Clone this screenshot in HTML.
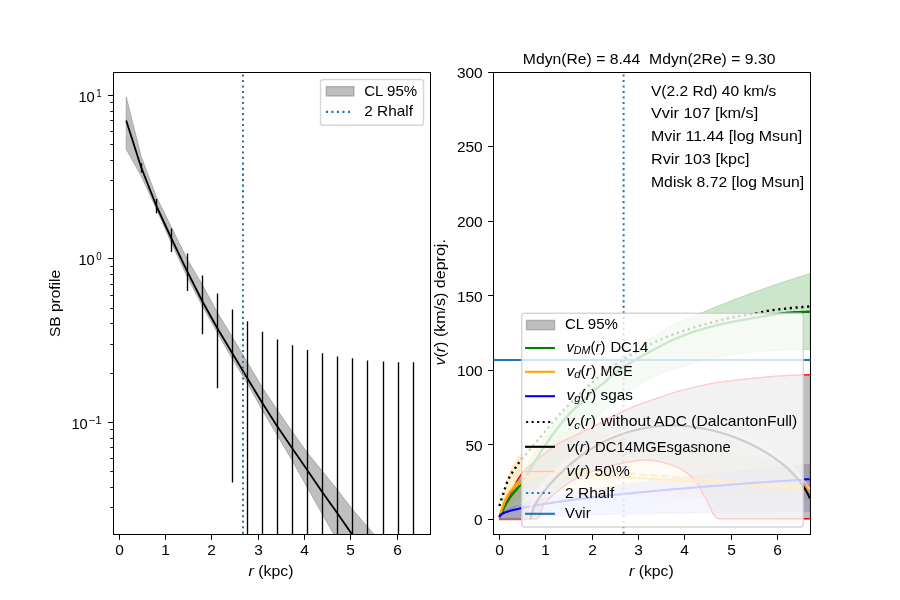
<!DOCTYPE html>
<html><head><meta charset="utf-8"><title>plot</title>
<style>html,body{margin:0;padding:0;background:#fff;overflow:hidden}svg{display:block;will-change:transform}text{font-family:"Liberation Sans",sans-serif;fill:#000}</style>
</head><body>
<svg width="900" height="600" viewBox="0 0 900 600">
<rect x="0" y="0" width="900" height="600" fill="#fff"/>
<clipPath id="cl"><rect x="113.5" y="72.5" width="317" height="462"/></clipPath>
<g clip-path="url(#cl)">
<polygon points="126.2,96.9 141.2,156.3 156.2,196.3 171.2,226.8 187.2,259 202.2,284.5 217.2,312 232.2,336.8 247.2,362 262.2,387.3 277.2,410 292.2,431.5 307.2,452.5 322.2,471 337.2,489.5 352.2,509 367.2,526.5 383.2,544 383.2,620 367.2,594 352.2,567 337.2,540.5 322.2,514 307.2,487.5 292.2,460.5 277.2,435.3 262.2,410 247.2,383 232.2,358.7 217.2,332.6 202.2,305.7 187.2,277 171.2,242.5 156.2,208.6 141.2,176 126.2,149.3" fill="#808080" fill-opacity="0.5" stroke="#808080" stroke-opacity="0.5" stroke-width="1"/>
<line x1="141.5" y1="163.3" x2="141.5" y2="172.5" stroke="#000" stroke-width="1.35"/>
<line x1="156.5" y1="199" x2="156.5" y2="213.2" stroke="#000" stroke-width="1.35"/>
<line x1="171.5" y1="228.6" x2="171.5" y2="252" stroke="#000" stroke-width="1.35"/>
<line x1="187.5" y1="253.4" x2="187.5" y2="291" stroke="#000" stroke-width="1.35"/>
<line x1="202.5" y1="275.6" x2="202.5" y2="334.2" stroke="#000" stroke-width="1.35"/>
<line x1="217.5" y1="293.4" x2="217.5" y2="388.3" stroke="#000" stroke-width="1.35"/>
<line x1="232.5" y1="309.5" x2="232.5" y2="482.5" stroke="#000" stroke-width="1.35"/>
<line x1="247.5" y1="321.3" x2="247.5" y2="540" stroke="#000" stroke-width="1.35"/>
<line x1="262.5" y1="331.7" x2="262.5" y2="540" stroke="#000" stroke-width="1.35"/>
<line x1="277.5" y1="339.6" x2="277.5" y2="540" stroke="#000" stroke-width="1.35"/>
<line x1="292.5" y1="345.3" x2="292.5" y2="540" stroke="#000" stroke-width="1.35"/>
<line x1="307.5" y1="350" x2="307.5" y2="540" stroke="#000" stroke-width="1.35"/>
<line x1="322.5" y1="353.3" x2="322.5" y2="540" stroke="#000" stroke-width="1.35"/>
<line x1="337.5" y1="356.5" x2="337.5" y2="540" stroke="#000" stroke-width="1.35"/>
<line x1="352.5" y1="358.3" x2="352.5" y2="540" stroke="#000" stroke-width="1.35"/>
<line x1="367.5" y1="360.5" x2="367.5" y2="540" stroke="#000" stroke-width="1.35"/>
<line x1="383.5" y1="361.4" x2="383.5" y2="540" stroke="#000" stroke-width="1.35"/>
<line x1="398.5" y1="362.3" x2="398.5" y2="540" stroke="#000" stroke-width="1.35"/>
<line x1="413.5" y1="362.3" x2="413.5" y2="540" stroke="#000" stroke-width="1.35"/>
<polyline points="126.2,120.5 141.2,167.4 156.2,205.5 171.2,238 187.2,271.3 202.2,301 217.2,328 232.2,353 247.2,378 262.2,402.7 277.2,426.3 292.2,448.3 307.2,470 322.2,492 337.2,513 352.2,534.6 367.2,556 383.2,577" fill="none" stroke="#000" stroke-width="1.8" stroke-linejoin="round"/>
<line x1="243" y1="533.8" x2="243" y2="72" stroke="#1f77b4" stroke-width="2" stroke-dasharray="2.08 3.43"/>
</g>
<rect x="113" y="72" width="318" height="1" fill="#000"/>
<rect x="113" y="534" width="318" height="1" fill="#000"/>
<rect x="113" y="72" width="1" height="463" fill="#000"/>
<rect x="430" y="72" width="1" height="463" fill="#000"/>
<rect x="119" y="535" width="1" height="4.8" fill="#000"/>
<text x="119.5" y="555" font-size="14.2" text-anchor="middle" textLength="8.6" lengthAdjust="spacingAndGlyphs">0</text>
<rect x="165" y="535" width="1" height="4.8" fill="#000"/>
<text x="165.5" y="555" font-size="14.2" text-anchor="middle" textLength="8.6" lengthAdjust="spacingAndGlyphs">1</text>
<rect x="211" y="535" width="1" height="4.8" fill="#000"/>
<text x="211.5" y="555" font-size="14.2" text-anchor="middle" textLength="8.6" lengthAdjust="spacingAndGlyphs">2</text>
<rect x="258" y="535" width="1" height="4.8" fill="#000"/>
<text x="258.5" y="555" font-size="14.2" text-anchor="middle" textLength="8.6" lengthAdjust="spacingAndGlyphs">3</text>
<rect x="304" y="535" width="1" height="4.8" fill="#000"/>
<text x="304.5" y="555" font-size="14.2" text-anchor="middle" textLength="8.6" lengthAdjust="spacingAndGlyphs">4</text>
<rect x="350" y="535" width="1" height="4.8" fill="#000"/>
<text x="350.5" y="555" font-size="14.2" text-anchor="middle" textLength="8.6" lengthAdjust="spacingAndGlyphs">5</text>
<rect x="397" y="535" width="1" height="4.8" fill="#000"/>
<text x="397.5" y="555" font-size="14.2" text-anchor="middle" textLength="8.6" lengthAdjust="spacingAndGlyphs">6</text>
<rect x="108.1" y="95" width="5" height="1" fill="#000"/>
<rect x="108.1" y="258" width="5" height="1" fill="#000"/>
<rect x="108.1" y="422" width="5" height="1" fill="#000"/>
<rect x="110.2" y="209" width="3" height="1" fill="#000" fill-opacity="0.9"/>
<rect x="110.2" y="180" width="3" height="1" fill="#000" fill-opacity="0.9"/>
<rect x="110.2" y="160" width="3" height="1" fill="#000" fill-opacity="0.9"/>
<rect x="110.2" y="144" width="3" height="1" fill="#000" fill-opacity="0.9"/>
<rect x="110.2" y="131" width="3" height="1" fill="#000" fill-opacity="0.9"/>
<rect x="110.2" y="120" width="3" height="1" fill="#000" fill-opacity="0.9"/>
<rect x="110.2" y="111" width="3" height="1" fill="#000" fill-opacity="0.9"/>
<rect x="110.2" y="102" width="3" height="1" fill="#000" fill-opacity="0.9"/>
<rect x="110.2" y="373" width="3" height="1" fill="#000" fill-opacity="0.9"/>
<rect x="110.2" y="344" width="3" height="1" fill="#000" fill-opacity="0.9"/>
<rect x="110.2" y="323" width="3" height="1" fill="#000" fill-opacity="0.9"/>
<rect x="110.2" y="308" width="3" height="1" fill="#000" fill-opacity="0.9"/>
<rect x="110.2" y="295" width="3" height="1" fill="#000" fill-opacity="0.9"/>
<rect x="110.2" y="284" width="3" height="1" fill="#000" fill-opacity="0.9"/>
<rect x="110.2" y="274" width="3" height="1" fill="#000" fill-opacity="0.9"/>
<rect x="110.2" y="266" width="3" height="1" fill="#000" fill-opacity="0.9"/>
<rect x="110.2" y="507" width="3" height="1" fill="#000" fill-opacity="0.9"/>
<rect x="110.2" y="487" width="3" height="1" fill="#000" fill-opacity="0.9"/>
<rect x="110.2" y="471" width="3" height="1" fill="#000" fill-opacity="0.9"/>
<rect x="110.2" y="458" width="3" height="1" fill="#000" fill-opacity="0.9"/>
<rect x="110.2" y="447" width="3" height="1" fill="#000" fill-opacity="0.9"/>
<rect x="110.2" y="438" width="3" height="1" fill="#000" fill-opacity="0.9"/>
<rect x="110.2" y="429" width="3" height="1" fill="#000" fill-opacity="0.9"/>
<text x="78.4" y="101.5" font-size="14.2" text-anchor="start" textLength="16.3" lengthAdjust="spacingAndGlyphs">10</text>
<text x="96.3" y="96.7" font-size="10.4" text-anchor="start" textLength="5.4" lengthAdjust="spacingAndGlyphs">1</text>
<text x="78.4" y="265.0" font-size="14.2" text-anchor="start" textLength="16.3" lengthAdjust="spacingAndGlyphs">10</text>
<text x="96.3" y="260.2" font-size="10.4" text-anchor="start" textLength="5.4" lengthAdjust="spacingAndGlyphs">0</text>
<text x="71.4" y="428.5" font-size="14.2" text-anchor="start" textLength="16.3" lengthAdjust="spacingAndGlyphs">10</text>
<text x="88.4" y="423.7" font-size="10.4" text-anchor="start" textLength="13.3" lengthAdjust="spacingAndGlyphs">−1</text>
<text x="248.6" y="575.7" font-size="14.2" text-anchor="start" textLength="44.8" lengthAdjust="spacingAndGlyphs"><tspan font-style="italic">r</tspan> (kpc)</text>
<text transform="translate(60.3,337) rotate(-90)" font-size="14.2" textLength="67" lengthAdjust="spacingAndGlyphs">SB profile</text>
<rect x="320.5" y="79.5" width="103" height="45.7" rx="2.8" fill="#fff" fill-opacity="0.8" stroke="#ccc" stroke-opacity="0.8" stroke-width="1.4"/>
<rect x="326.3" y="86.6" width="27.6" height="9.4" fill="#808080" fill-opacity="0.5" stroke="#808080" stroke-opacity="0.5" stroke-width="1.4"/>
<line x1="325.9" y1="111.9" x2="353" y2="111.9" stroke="#1f77b4" stroke-width="2.1" stroke-dasharray="2.08 3.43"/>
<text x="364.2" y="96.2" font-size="14.2" text-anchor="start" textLength="53.0" lengthAdjust="spacingAndGlyphs">CL 95%</text>
<text x="364.3" y="116.3" font-size="14.2" text-anchor="start" textLength="48.6" lengthAdjust="spacingAndGlyphs">2 Rhalf</text>
<rect x="493" y="72" width="318" height="1" fill="#000"/>
<rect x="493" y="534" width="318" height="1" fill="#000"/>
<rect x="493" y="72" width="1" height="463" fill="#000"/>
<rect x="810" y="72" width="1" height="463" fill="#000"/>
<rect x="499" y="535" width="1" height="4.8" fill="#000"/>
<text x="499.5" y="555" font-size="14.2" text-anchor="middle" textLength="8.6" lengthAdjust="spacingAndGlyphs">0</text>
<rect x="545" y="535" width="1" height="4.8" fill="#000"/>
<text x="545.5" y="555" font-size="14.2" text-anchor="middle" textLength="8.6" lengthAdjust="spacingAndGlyphs">1</text>
<rect x="592" y="535" width="1" height="4.8" fill="#000"/>
<text x="592.5" y="555" font-size="14.2" text-anchor="middle" textLength="8.6" lengthAdjust="spacingAndGlyphs">2</text>
<rect x="638" y="535" width="1" height="4.8" fill="#000"/>
<text x="638.5" y="555" font-size="14.2" text-anchor="middle" textLength="8.6" lengthAdjust="spacingAndGlyphs">3</text>
<rect x="684" y="535" width="1" height="4.8" fill="#000"/>
<text x="684.5" y="555" font-size="14.2" text-anchor="middle" textLength="8.6" lengthAdjust="spacingAndGlyphs">4</text>
<rect x="731" y="535" width="1" height="4.8" fill="#000"/>
<text x="731.5" y="555" font-size="14.2" text-anchor="middle" textLength="8.6" lengthAdjust="spacingAndGlyphs">5</text>
<rect x="777" y="535" width="1" height="4.8" fill="#000"/>
<text x="777.5" y="555" font-size="14.2" text-anchor="middle" textLength="8.6" lengthAdjust="spacingAndGlyphs">6</text>
<rect x="488.1" y="519" width="5" height="1" fill="#000"/>
<text x="482.7" y="525.0" font-size="14.2" text-anchor="end" textLength="8.6" lengthAdjust="spacingAndGlyphs">0</text>
<rect x="488.1" y="444" width="5" height="1" fill="#000"/>
<text x="482.7" y="450.5" font-size="14.2" text-anchor="end" textLength="17.2" lengthAdjust="spacingAndGlyphs">50</text>
<rect x="488.1" y="370" width="5" height="1" fill="#000"/>
<text x="482.7" y="376.0" font-size="14.2" text-anchor="end" textLength="25.799999999999997" lengthAdjust="spacingAndGlyphs">100</text>
<rect x="488.1" y="295" width="5" height="1" fill="#000"/>
<text x="482.7" y="301.5" font-size="14.2" text-anchor="end" textLength="25.799999999999997" lengthAdjust="spacingAndGlyphs">150</text>
<rect x="488.1" y="221" width="5" height="1" fill="#000"/>
<text x="482.7" y="226.9" font-size="14.2" text-anchor="end" textLength="25.799999999999997" lengthAdjust="spacingAndGlyphs">200</text>
<rect x="488.1" y="146" width="5" height="1" fill="#000"/>
<text x="482.7" y="152.4" font-size="14.2" text-anchor="end" textLength="25.799999999999997" lengthAdjust="spacingAndGlyphs">250</text>
<rect x="488.1" y="72" width="5" height="1" fill="#000"/>
<text x="482.7" y="77.9" font-size="14.2" text-anchor="end" textLength="25.799999999999997" lengthAdjust="spacingAndGlyphs">300</text>
<text x="629.0" y="575.7" font-size="14.2" text-anchor="start" textLength="44.8" lengthAdjust="spacingAndGlyphs"><tspan font-style="italic">r</tspan> (kpc)</text>
<text transform="translate(445,365.6) rotate(-90)" font-size="14.2" textLength="126.5" lengthAdjust="spacingAndGlyphs"><tspan font-style="italic">v</tspan>(<tspan font-style="italic">r</tspan>) (km/s) deproj.</text>
<text x="522.8" y="63.8" font-size="14.2" text-anchor="start" textLength="252.6" lengthAdjust="spacingAndGlyphs" xml:space="preserve">Mdyn(Re) = 8.44  Mdyn(2Re) = 9.30</text>
<clipPath id="cr"><rect x="493.5" y="72.5" width="317" height="462"/></clipPath>
<g clip-path="url(#cr)">
<polygon points="499.4,517.2 500.1,515.7 500.8,514.2 501.5,512.8 502.3,511.3 503.0,509.8 503.7,508.4 504.4,507.0 505.1,505.5 505.8,504.1 506.5,502.7 507.2,501.3 508.0,499.9 508.7,498.5 509.4,497.1 510.1,495.7 510.8,494.3 511.5,493.0 512.2,491.6 512.9,490.3 513.7,488.9 514.4,487.6 515.1,486.3 515.8,484.9 516.5,483.6 517.2,482.3 517.9,481.0 518.6,479.8 519.4,478.5 520.1,477.2 520.8,475.9 521.5,474.7 522.2,473.5 522.9,472.2 523.6,471.0 524.3,469.8 525.1,468.6 525.8,467.3 526.5,466.1 527.2,464.9 528.6,462.6 530.0,460.2 531.5,457.9 532.9,455.6 534.3,453.4 535.7,451.1 537.1,448.9 538.6,446.7 540.0,444.5 541.4,442.4 542.8,440.2 544.2,438.1 545.7,436.0 547.1,434.0 548.5,431.9 549.9,429.9 551.3,427.8 552.8,425.8 554.2,423.8 555.6,421.8 557.0,419.9 558.4,418.0 559.9,416.1 561.3,414.2 562.7,412.3 564.1,410.5 565.5,408.7 567.0,407.0 568.4,405.3 569.8,403.6 571.2,401.9 572.6,400.3 574.1,398.6 575.5,397.0 576.9,395.4 578.3,393.9 579.7,392.3 581.2,390.8 582.6,389.3 584.0,387.8 585.4,386.4 586.8,385.0 588.3,383.6 589.7,382.2 591.1,380.9 592.5,379.6 593.9,378.4 595.4,377.1 596.8,375.9 598.2,374.8 599.6,373.6 601.0,372.5 602.5,371.3 603.9,370.2 605.3,369.1 606.7,368.1 608.1,367.0 609.6,365.9 611.0,364.9 612.4,363.9 613.8,362.8 615.2,361.8 616.7,360.8 618.1,359.7 619.5,358.7 620.9,357.7 622.3,356.7 623.8,355.7 625.2,354.7 626.6,353.7 628.0,352.7 629.4,351.8 630.9,350.8 632.3,349.9 633.7,348.9 635.1,348.0 636.6,347.0 638.0,346.1 639.4,345.2 640.8,344.2 642.2,343.3 643.7,342.4 645.1,341.5 646.5,340.6 647.9,339.8 649.3,338.9 650.8,338.0 652.2,337.1 653.6,336.3 655.0,335.4 656.4,334.5 657.9,333.7 659.3,332.8 660.7,332.0 662.1,331.1 663.5,330.3 665.0,329.5 666.4,328.7 667.8,327.9 669.2,327.2 670.6,326.4 672.1,325.7 673.5,325.0 674.9,324.3 676.3,323.6 677.7,323.0 679.2,322.3 680.6,321.7 682.0,321.0 683.4,320.4 684.8,319.8 686.3,319.2 687.7,318.6 689.1,318.0 690.5,317.4 691.9,316.9 693.4,316.3 694.8,315.7 696.2,315.1 697.6,314.5 699.0,313.9 700.5,313.3 701.9,312.7 703.3,312.1 704.7,311.5 706.1,311.0 707.6,310.4 709.0,309.8 710.4,309.2 711.8,308.6 713.2,308.0 714.7,307.4 716.1,306.9 717.5,306.3 718.9,305.7 720.3,305.1 721.8,304.6 723.2,304.0 724.6,303.4 726.0,302.9 727.4,302.3 728.9,301.7 730.3,301.2 731.7,300.6 733.1,300.1 734.5,299.5 736.0,299.0 737.4,298.4 738.8,297.9 740.2,297.3 741.6,296.8 743.1,296.3 744.5,295.7 745.9,295.2 747.3,294.6 748.7,294.1 750.2,293.6 751.6,293.1 753.0,292.5 754.4,292.0 755.8,291.5 757.3,291.0 758.7,290.5 760.1,289.9 761.5,289.4 762.9,288.9 764.4,288.4 765.8,287.9 767.2,287.4 768.6,286.9 770.0,286.4 771.5,286.0 772.9,285.5 774.3,285.0 775.7,284.5 777.1,284.0 778.6,283.5 780.0,283.1 781.4,282.6 782.8,282.1 784.2,281.7 785.7,281.2 787.1,280.7 788.5,280.3 789.9,279.8 791.3,279.4 792.8,278.9 794.2,278.4 795.6,278.0 797.0,277.6 798.4,277.1 799.9,276.7 801.3,276.2 802.7,275.8 804.1,275.4 805.6,274.9 807.0,274.5 808.4,274.1 809.8,273.6 809.8,349.5 808.4,349.5 807.0,349.5 805.6,349.5 804.1,349.5 802.7,349.6 801.3,349.6 799.9,349.6 798.4,349.7 797.0,349.7 795.6,349.7 794.2,349.8 792.8,349.8 791.3,349.9 789.9,349.9 788.5,350.0 787.1,350.1 785.7,350.1 784.2,350.2 782.8,350.3 781.4,350.3 780.0,350.4 778.6,350.5 777.1,350.6 775.7,350.7 774.3,350.7 772.9,350.8 771.5,350.9 770.0,351.0 768.6,351.1 767.2,351.2 765.8,351.3 764.4,351.4 762.9,351.5 761.5,351.6 760.1,351.7 758.7,351.8 757.3,351.9 755.8,352.0 754.4,352.1 753.0,352.3 751.6,352.4 750.2,352.5 748.7,352.6 747.3,352.7 745.9,352.9 744.5,353.0 743.1,353.2 741.6,353.4 740.2,353.6 738.8,353.8 737.4,354.0 736.0,354.2 734.5,354.4 733.1,354.7 731.7,354.9 730.3,355.1 728.9,355.3 727.4,355.5 726.0,355.7 724.6,355.9 723.2,356.2 721.8,356.4 720.3,356.6 718.9,356.9 717.5,357.1 716.1,357.4 714.7,357.6 713.2,357.9 711.8,358.2 710.4,358.4 709.0,358.7 707.6,359.1 706.1,359.4 704.7,359.7 703.3,360.1 701.9,360.5 700.5,360.9 699.0,361.3 697.6,361.8 696.2,362.2 694.8,362.7 693.4,363.1 691.9,363.6 690.5,364.1 689.1,364.6 687.7,365.0 686.3,365.5 684.8,366.0 683.4,366.4 682.0,366.9 680.6,367.4 679.2,367.8 677.7,368.2 676.3,368.7 674.9,369.1 673.5,369.5 672.1,369.9 670.6,370.3 669.2,370.8 667.8,371.2 666.4,371.7 665.0,372.2 663.5,372.7 662.1,373.2 660.7,373.7 659.3,374.3 657.9,374.9 656.4,375.5 655.0,376.2 653.6,376.8 652.2,377.5 650.8,378.2 649.3,378.9 647.9,379.6 646.5,380.4 645.1,381.2 643.7,381.9 642.2,382.7 640.8,383.5 639.4,384.3 638.0,385.2 636.6,386.0 635.1,386.9 633.7,387.8 632.3,388.7 630.9,389.6 629.4,390.6 628.0,391.5 626.6,392.5 625.2,393.6 623.8,394.6 622.3,395.6 620.9,396.7 619.5,397.8 618.1,398.9 616.7,400.0 615.2,401.2 613.8,402.3 612.4,403.5 611.0,404.7 609.6,406.0 608.1,407.3 606.7,408.6 605.3,409.9 603.9,411.3 602.5,412.7 601.0,414.1 599.6,415.5 598.2,416.9 596.8,418.4 595.4,419.8 593.9,421.3 592.5,422.9 591.1,424.4 589.7,426.0 588.3,427.6 586.8,429.3 585.4,431.0 584.0,432.7 582.6,434.4 581.2,436.1 579.7,437.8 578.3,439.5 576.9,441.3 575.5,443.0 574.1,444.7 572.6,446.4 571.2,448.1 569.8,449.8 568.4,451.4 567.0,453.1 565.5,454.8 564.1,456.5 562.7,458.2 561.3,459.8 559.9,461.5 558.4,463.2 557.0,464.9 555.6,466.6 554.2,468.2 552.8,469.9 551.3,471.5 549.9,473.1 548.5,474.7 547.1,476.2 545.7,477.7 544.2,479.3 542.8,480.8 541.4,482.3 540.0,483.8 538.6,485.3 537.1,486.7 535.7,488.2 534.3,489.6 532.9,491.1 531.5,492.5 530.0,493.9 528.6,495.2 527.2,496.5 526.5,497.2 525.8,497.8 525.1,498.5 524.3,499.1 523.6,499.7 522.9,500.3 522.2,500.9 521.5,501.5 520.8,502.1 520.1,502.7 519.4,503.3 518.6,503.8 517.9,504.4 517.2,505.0 516.5,505.5 515.8,506.1 515.1,506.6 514.4,507.1 513.7,507.7 512.9,508.2 512.2,508.7 511.5,509.3 510.8,509.8 510.1,510.3 509.4,510.8 508.7,511.3 508.0,511.8 507.2,512.2 506.5,512.7 505.8,513.2 505.1,513.7 504.4,514.1 503.7,514.6 503.0,515.0 502.3,515.5 501.5,515.9 500.8,516.3 500.1,516.8 499.4,517.2" fill="#008000" fill-opacity="0.2" stroke="#008000" stroke-opacity="0.2" stroke-width="1"/>
<polygon points="499.4,517.2 500.1,513.6 500.8,510.1 501.5,506.7 502.3,503.3 503.0,500.1 503.7,497.0 504.4,494.1 505.1,491.1 505.8,488.1 506.5,485.2 507.2,482.3 508.0,479.6 508.7,477.0 509.4,474.6 510.1,472.5 510.8,470.6 511.5,469.0 512.2,467.5 512.9,466.1 513.7,464.7 514.4,463.4 515.1,462.1 515.8,461.0 516.5,459.9 517.2,458.8 517.9,457.8 518.6,456.9 519.4,456.0 520.1,455.1 520.8,454.3 521.5,453.5 522.2,452.8 522.9,452.1 523.6,451.3 524.3,450.6 525.1,449.9 525.8,449.2 526.5,448.6 527.2,447.9 528.6,446.6 530.0,445.4 531.5,444.2 532.9,443.1 534.3,442.0 535.7,441.0 537.1,440.1 538.6,439.2 540.0,438.4 541.4,437.7 542.8,437.0 544.2,436.5 545.7,436.0 547.1,435.5 548.5,435.1 549.9,434.6 551.3,434.2 552.8,433.8 554.2,433.5 555.6,433.1 557.0,432.8 558.4,432.6 559.9,432.4 561.3,432.2 562.7,432.1 564.1,432.1 565.5,432.1 567.0,432.1 568.4,432.1 569.8,432.1 571.2,432.2 572.6,432.2 574.1,432.2 575.5,432.3 576.9,432.3 578.3,432.4 579.7,432.5 581.2,432.5 582.6,432.6 584.0,432.7 585.4,432.8 586.8,432.9 588.3,432.9 589.7,433.0 591.1,433.1 592.5,433.2 593.9,433.3 595.4,433.4 596.8,433.5 598.2,433.6 599.6,433.7 601.0,433.8 602.5,433.9 603.9,434.0 605.3,434.1 606.7,434.3 608.1,434.4 609.6,434.6 611.0,434.7 612.4,434.9 613.8,435.1 615.2,435.3 616.7,435.5 618.1,435.7 619.5,435.9 620.9,436.1 622.3,436.3 623.8,436.5 625.2,436.8 626.6,437.0 628.0,437.2 629.4,437.5 630.9,437.7 632.3,438.0 633.7,438.3 635.1,438.5 636.6,438.8 638.0,439.1 639.4,439.3 640.8,439.6 642.2,439.9 643.7,440.2 645.1,440.4 646.5,440.7 647.9,441.0 649.3,441.3 650.8,441.6 652.2,441.9 653.6,442.2 655.0,442.4 656.4,442.7 657.9,443.0 659.3,443.3 660.7,443.6 662.1,443.9 663.5,444.1 665.0,444.4 666.4,444.7 667.8,445.0 669.2,445.2 670.6,445.5 672.1,445.7 673.5,446.0 674.9,446.3 676.3,446.5 677.7,446.7 679.2,447.0 680.6,447.2 682.0,447.4 683.4,447.7 684.8,447.9 686.3,448.1 687.7,448.3 689.1,448.5 690.5,448.7 691.9,448.9 693.4,449.2 694.8,449.4 696.2,449.6 697.6,449.8 699.0,450.0 700.5,450.2 701.9,450.4 703.3,450.6 704.7,450.8 706.1,451.0 707.6,451.2 709.0,451.4 710.4,451.7 711.8,451.9 713.2,452.1 714.7,452.3 716.1,452.5 717.5,452.7 718.9,452.9 720.3,453.1 721.8,453.3 723.2,453.5 724.6,453.7 726.0,453.9 727.4,454.1 728.9,454.3 730.3,454.5 731.7,454.7 733.1,454.9 734.5,455.1 736.0,455.3 737.4,455.5 738.8,455.7 740.2,455.9 741.6,456.1 743.1,456.3 744.5,456.5 745.9,456.6 747.3,456.8 748.7,457.0 750.2,457.2 751.6,457.4 753.0,457.6 754.4,457.8 755.8,458.0 757.3,458.2 758.7,458.4 760.1,458.5 761.5,458.7 762.9,458.9 764.4,459.1 765.8,459.3 767.2,459.5 768.6,459.7 770.0,459.8 771.5,460.0 772.9,460.2 774.3,460.4 775.7,460.6 777.1,460.8 778.6,460.9 780.0,461.1 781.4,461.3 782.8,461.5 784.2,461.6 785.7,461.8 787.1,462.0 788.5,462.2 789.9,462.3 791.3,462.5 792.8,462.7 794.2,462.9 795.6,463.0 797.0,463.2 798.4,463.4 799.9,463.5 801.3,463.7 802.7,463.9 804.1,464.0 805.6,464.2 807.0,464.4 808.4,464.5 809.8,464.7 809.8,500.0 808.4,500.0 807.0,500.0 805.6,500.0 804.1,499.9 802.7,499.9 801.3,499.9 799.9,499.9 798.4,499.8 797.0,499.8 795.6,499.8 794.2,499.8 792.8,499.8 791.3,499.7 789.9,499.7 788.5,499.7 787.1,499.6 785.7,499.6 784.2,499.6 782.8,499.6 781.4,499.5 780.0,499.5 778.6,499.5 777.1,499.5 775.7,499.4 774.3,499.4 772.9,499.4 771.5,499.3 770.0,499.3 768.6,499.3 767.2,499.2 765.8,499.2 764.4,499.2 762.9,499.2 761.5,499.1 760.1,499.1 758.7,499.1 757.3,499.0 755.8,499.0 754.4,499.0 753.0,498.9 751.6,498.9 750.2,498.9 748.7,498.8 747.3,498.8 745.9,498.8 744.5,498.7 743.1,498.7 741.6,498.6 740.2,498.6 738.8,498.6 737.4,498.5 736.0,498.5 734.5,498.5 733.1,498.4 731.7,498.4 730.3,498.3 728.9,498.3 727.4,498.3 726.0,498.2 724.6,498.2 723.2,498.2 721.8,498.1 720.3,498.1 718.9,498.0 717.5,498.0 716.1,498.0 714.7,497.9 713.2,497.9 711.8,497.8 710.4,497.8 709.0,497.8 707.6,497.7 706.1,497.7 704.7,497.6 703.3,497.6 701.9,497.6 700.5,497.5 699.0,497.5 697.6,497.4 696.2,497.4 694.8,497.3 693.4,497.3 691.9,497.3 690.5,497.2 689.1,497.2 687.7,497.1 686.3,497.1 684.8,497.0 683.4,497.0 682.0,497.0 680.6,496.9 679.2,496.9 677.7,496.8 676.3,496.8 674.9,496.7 673.5,496.7 672.1,496.6 670.6,496.6 669.2,496.5 667.8,496.5 666.4,496.4 665.0,496.4 663.5,496.3 662.1,496.2 660.7,496.2 659.3,496.1 657.9,496.1 656.4,496.0 655.0,496.0 653.6,495.9 652.2,495.8 650.8,495.8 649.3,495.7 647.9,495.7 646.5,495.6 645.1,495.5 643.7,495.5 642.2,495.4 640.8,495.3 639.4,495.3 638.0,495.2 636.6,495.2 635.1,495.1 633.7,495.0 632.3,495.0 630.9,494.9 629.4,494.8 628.0,494.8 626.6,494.7 625.2,494.7 623.8,494.6 622.3,494.5 620.9,494.5 619.5,494.4 618.1,494.4 616.7,494.3 615.2,494.2 613.8,494.2 612.4,494.1 611.0,494.1 609.6,494.0 608.1,493.9 606.7,493.9 605.3,493.8 603.9,493.8 602.5,493.7 601.0,493.7 599.6,493.6 598.2,493.5 596.8,493.5 595.4,493.4 593.9,493.4 592.5,493.3 591.1,493.3 589.7,493.2 588.3,493.2 586.8,493.1 585.4,493.1 584.0,493.0 582.6,492.9 581.2,492.9 579.7,492.8 578.3,492.8 576.9,492.7 575.5,492.6 574.1,492.6 572.6,492.5 571.2,492.5 569.8,492.4 568.4,492.4 567.0,492.3 565.5,492.2 564.1,492.2 562.7,492.1 561.3,492.1 559.9,492.1 558.4,492.0 557.0,492.0 555.6,491.9 554.2,491.9 552.8,491.9 551.3,491.9 549.9,491.9 548.5,491.8 547.1,491.8 545.7,491.8 544.2,491.8 542.8,491.9 541.4,492.0 540.0,492.1 538.6,492.2 537.1,492.4 535.7,492.6 534.3,492.8 532.9,493.1 531.5,493.4 530.0,493.7 528.6,494.0 527.2,494.3 526.5,494.5 525.8,494.7 525.1,494.9 524.3,495.1 523.6,495.3 522.9,495.5 522.2,495.7 521.5,495.9 520.8,496.3 520.1,496.7 519.4,497.1 518.6,497.6 517.9,498.2 517.2,498.8 516.5,499.4 515.8,500.0 515.1,500.7 514.4,501.3 513.7,502.0 512.9,502.7 512.2,503.3 511.5,504.0 510.8,504.7 510.1,505.3 509.4,506.0 508.7,506.7 508.0,507.4 507.2,508.1 506.5,508.9 505.8,509.6 505.1,510.4 504.4,511.2 503.7,512.0 503.0,512.8 502.3,513.7 501.5,514.5 500.8,515.4 500.1,516.3 499.4,517.2" fill="#ffa500" fill-opacity="0.2" stroke="#ffa500" stroke-opacity="0.2" stroke-width="1"/>
<polygon points="499.4,517.2 500.1,514.6 500.8,513.6 501.5,512.9 502.3,512.3 503.0,511.7 503.7,511.3 504.4,510.8 505.1,510.4 505.8,510.0 506.5,509.7 507.2,509.3 508.0,509.0 508.7,508.7 509.4,508.4 510.1,508.1 510.8,507.8 511.5,507.5 512.2,507.3 512.9,507.0 513.7,506.8 514.4,506.5 515.1,506.3 515.8,506.0 516.5,505.8 517.2,505.6 517.9,505.3 518.6,505.1 519.4,504.9 520.1,504.7 520.8,504.4 521.5,504.2 522.2,504.0 522.9,503.8 523.6,503.6 524.3,503.4 525.1,503.2 525.8,503.0 526.5,502.8 527.2,502.6 528.6,502.2 530.0,501.9 531.5,501.5 532.9,501.1 534.3,500.8 535.7,500.4 537.1,500.1 538.6,499.7 540.0,499.4 541.4,499.1 542.8,498.8 544.2,498.4 545.7,498.1 547.1,497.8 548.5,497.5 549.9,497.2 551.3,496.9 552.8,496.6 554.2,496.3 555.6,496.0 557.0,495.7 558.4,495.4 559.9,495.2 561.3,494.9 562.7,494.6 564.1,494.3 565.5,494.1 567.0,493.8 568.4,493.5 569.8,493.3 571.2,493.0 572.6,492.7 574.1,492.5 575.5,492.2 576.9,492.0 578.3,491.7 579.7,491.5 581.2,491.2 582.6,491.0 584.0,490.8 585.4,490.5 586.8,490.3 588.3,490.0 589.7,489.8 591.1,489.6 592.5,489.4 593.9,489.1 595.4,488.9 596.8,488.7 598.2,488.5 599.6,488.2 601.0,488.0 602.5,487.8 603.9,487.6 605.3,487.4 606.7,487.1 608.1,486.9 609.6,486.7 611.0,486.5 612.4,486.3 613.8,486.1 615.2,485.9 616.7,485.7 618.1,485.5 619.5,485.3 620.9,485.1 622.3,484.9 623.8,484.7 625.2,484.5 626.6,484.3 628.0,484.1 629.4,483.9 630.9,483.7 632.3,483.5 633.7,483.3 635.1,483.1 636.6,482.9 638.0,482.8 639.4,482.6 640.8,482.4 642.2,482.2 643.7,482.0 645.1,481.8 646.5,481.6 647.9,481.5 649.3,481.3 650.8,481.1 652.2,480.9 653.6,480.7 655.0,480.6 656.4,480.4 657.9,480.2 659.3,480.0 660.7,479.9 662.1,479.7 663.5,479.5 665.0,479.3 666.4,479.2 667.8,479.0 669.2,478.8 670.6,478.7 672.1,478.5 673.5,478.3 674.9,478.2 676.3,478.0 677.7,477.8 679.2,477.7 680.6,477.5 682.0,477.3 683.4,477.2 684.8,477.0 686.3,476.8 687.7,476.7 689.1,476.5 690.5,476.4 691.9,476.2 693.4,476.0 694.8,475.9 696.2,475.7 697.6,475.6 699.0,475.4 700.5,475.3 701.9,475.1 703.3,475.0 704.7,474.8 706.1,474.6 707.6,474.5 709.0,474.3 710.4,474.2 711.8,474.0 713.2,473.9 714.7,473.7 716.1,473.6 717.5,473.4 718.9,473.3 720.3,473.1 721.8,473.0 723.2,472.8 724.6,472.7 726.0,472.5 727.4,472.4 728.9,472.2 730.3,472.1 731.7,472.0 733.1,471.8 734.5,471.7 736.0,471.5 737.4,471.4 738.8,471.2 740.2,471.1 741.6,471.0 743.1,470.8 744.5,470.7 745.9,470.5 747.3,470.4 748.7,470.2 750.2,470.1 751.6,470.0 753.0,469.8 754.4,469.7 755.8,469.6 757.3,469.4 758.7,469.3 760.1,469.1 761.5,469.0 762.9,468.9 764.4,468.7 765.8,468.6 767.2,468.5 768.6,468.3 770.0,468.2 771.5,468.1 772.9,467.9 774.3,467.8 775.7,467.7 777.1,467.5 778.6,467.4 780.0,467.3 781.4,467.1 782.8,467.0 784.2,466.9 785.7,466.7 787.1,466.6 788.5,466.5 789.9,466.3 791.3,466.2 792.8,466.1 794.2,466.0 795.6,465.8 797.0,465.7 798.4,465.6 799.9,465.4 801.3,465.3 802.7,465.2 804.1,465.1 805.6,464.9 807.0,464.8 808.4,464.7 809.8,464.6 809.8,511.2 808.4,511.2 807.0,511.2 805.6,511.3 804.1,511.3 802.7,511.3 801.3,511.3 799.9,511.3 798.4,511.4 797.0,511.4 795.6,511.4 794.2,511.4 792.8,511.4 791.3,511.5 789.9,511.5 788.5,511.5 787.1,511.5 785.7,511.5 784.2,511.5 782.8,511.6 781.4,511.6 780.0,511.6 778.6,511.6 777.1,511.6 775.7,511.7 774.3,511.7 772.9,511.7 771.5,511.7 770.0,511.7 768.6,511.8 767.2,511.8 765.8,511.8 764.4,511.8 762.9,511.8 761.5,511.9 760.1,511.9 758.7,511.9 757.3,511.9 755.8,511.9 754.4,512.0 753.0,512.0 751.6,512.0 750.2,512.0 748.7,512.1 747.3,512.1 745.9,512.1 744.5,512.1 743.1,512.1 741.6,512.2 740.2,512.2 738.8,512.2 737.4,512.2 736.0,512.2 734.5,512.3 733.1,512.3 731.7,512.3 730.3,512.3 728.9,512.4 727.4,512.4 726.0,512.4 724.6,512.4 723.2,512.4 721.8,512.5 720.3,512.5 718.9,512.5 717.5,512.5 716.1,512.6 714.7,512.6 713.2,512.6 711.8,512.6 710.4,512.6 709.0,512.7 707.6,512.7 706.1,512.7 704.7,512.7 703.3,512.8 701.9,512.8 700.5,512.8 699.0,512.8 697.6,512.9 696.2,512.9 694.8,512.9 693.4,512.9 691.9,512.9 690.5,513.0 689.1,513.0 687.7,513.0 686.3,513.0 684.8,513.1 683.4,513.1 682.0,513.1 680.6,513.1 679.2,513.2 677.7,513.2 676.3,513.2 674.9,513.2 673.5,513.3 672.1,513.3 670.6,513.3 669.2,513.3 667.8,513.4 666.4,513.4 665.0,513.4 663.5,513.4 662.1,513.5 660.7,513.5 659.3,513.5 657.9,513.5 656.4,513.6 655.0,513.6 653.6,513.6 652.2,513.6 650.8,513.7 649.3,513.7 647.9,513.7 646.5,513.8 645.1,513.8 643.7,513.8 642.2,513.8 640.8,513.9 639.4,513.9 638.0,513.9 636.6,514.0 635.1,514.0 633.7,514.0 632.3,514.0 630.9,514.1 629.4,514.1 628.0,514.1 626.6,514.2 625.2,514.2 623.8,514.2 622.3,514.2 620.9,514.3 619.5,514.3 618.1,514.3 616.7,514.4 615.2,514.4 613.8,514.4 612.4,514.5 611.0,514.5 609.6,514.5 608.1,514.5 606.7,514.6 605.3,514.6 603.9,514.6 602.5,514.7 601.0,514.7 599.6,514.7 598.2,514.8 596.8,514.8 595.4,514.8 593.9,514.9 592.5,514.9 591.1,514.9 589.7,515.0 588.3,515.0 586.8,515.0 585.4,515.1 584.0,515.1 582.6,515.2 581.2,515.2 579.7,515.2 578.3,515.3 576.9,515.3 575.5,515.3 574.1,515.4 572.6,515.4 571.2,515.5 569.8,515.5 568.4,515.5 567.0,515.6 565.5,515.6 564.1,515.7 562.7,515.7 561.3,515.7 559.9,515.8 558.4,515.8 557.0,515.9 555.6,515.9 554.2,516.0 552.8,516.0 551.3,516.0 549.9,516.1 548.5,516.1 547.1,516.2 545.7,516.2 544.2,516.3 542.8,516.3 541.4,516.4 540.0,516.4 538.6,516.5 537.1,516.5 535.7,516.6 534.3,516.7 532.9,516.7 531.5,516.8 530.0,516.8 528.6,516.9 527.2,516.9 526.5,517.0 525.8,517.0 525.1,517.0 524.3,517.1 523.6,517.1 522.9,517.1 522.2,517.2 521.5,517.2 520.8,517.2 520.1,517.3 519.4,517.3 518.6,517.4 517.9,517.4 517.2,517.4 516.5,517.5 515.8,517.5 515.1,517.6 514.4,517.6 513.7,517.6 512.9,517.7 512.2,517.7 511.5,517.8 510.8,517.8 510.1,517.9 509.4,517.9 508.7,518.0 508.0,518.0 507.2,518.1 506.5,518.2 505.8,518.2 505.1,518.3 504.4,518.4 503.7,518.4 503.0,518.5 502.3,518.6 501.5,518.7 500.8,518.8 500.1,519.0 499.4,519.4" fill="#0000ff" fill-opacity="0.2" stroke="#0000ff" stroke-opacity="0.2" stroke-width="1"/>
<polygon points="499.4,517.2 500.1,515.6 500.8,514.0 501.5,512.5 502.3,510.9 503.0,509.4 503.7,507.9 504.4,506.4 505.1,504.9 505.8,503.4 506.5,502.0 507.2,500.5 508.0,499.1 508.7,497.7 509.4,496.2 510.1,494.8 510.8,493.3 511.5,491.8 512.2,490.3 512.9,488.9 513.7,487.4 514.4,486.0 515.1,484.6 515.8,483.2 516.5,481.8 517.2,480.5 517.9,479.3 518.6,478.1 519.4,476.9 520.1,475.9 520.8,474.9 521.5,474.0 522.2,473.1 522.9,472.3 523.6,471.5 524.3,470.7 525.1,470.0 525.8,469.3 526.5,468.6 527.2,467.9 528.6,466.6 530.0,465.4 531.5,464.2 532.9,463.1 534.3,462.0 535.7,460.9 537.1,459.7 538.6,458.6 540.0,457.4 541.4,456.2 542.8,455.1 544.2,453.9 545.7,452.8 547.1,451.6 548.5,450.5 549.9,449.4 551.3,448.4 552.8,447.3 554.2,446.3 555.6,445.4 557.0,444.4 558.4,443.6 559.9,442.7 561.3,441.9 562.7,441.2 564.1,440.5 565.5,439.8 567.0,439.2 568.4,438.6 569.8,437.9 571.2,437.3 572.6,436.7 574.1,436.0 575.5,435.4 576.9,434.7 578.3,434.0 579.7,433.4 581.2,432.7 582.6,432.1 584.0,431.4 585.4,430.7 586.8,430.0 588.3,429.3 589.7,428.6 591.1,427.9 592.5,427.2 593.9,426.5 595.4,425.7 596.8,424.9 598.2,424.2 599.6,423.4 601.0,422.6 602.5,421.8 603.9,421.0 605.3,420.3 606.7,419.5 608.1,418.7 609.6,418.0 611.0,417.2 612.4,416.5 613.8,415.8 615.2,415.1 616.7,414.4 618.1,413.7 619.5,413.1 620.9,412.4 622.3,411.7 623.8,411.1 625.2,410.4 626.6,409.7 628.0,409.1 629.4,408.5 630.9,407.9 632.3,407.2 633.7,406.6 635.1,406.1 636.6,405.5 638.0,404.9 639.4,404.4 640.8,403.8 642.2,403.3 643.7,402.8 645.1,402.3 646.5,401.8 647.9,401.3 649.3,400.8 650.8,400.4 652.2,399.9 653.6,399.4 655.0,399.0 656.4,398.5 657.9,398.0 659.3,397.6 660.7,397.1 662.1,396.6 663.5,396.1 665.0,395.6 666.4,395.1 667.8,394.6 669.2,394.2 670.6,393.7 672.1,393.2 673.5,392.7 674.9,392.3 676.3,391.8 677.7,391.4 679.2,391.0 680.6,390.6 682.0,390.3 683.4,389.9 684.8,389.6 686.3,389.2 687.7,388.9 689.1,388.5 690.5,388.2 691.9,387.8 693.4,387.5 694.8,387.2 696.2,386.8 697.6,386.5 699.0,386.2 700.5,385.9 701.9,385.6 703.3,385.3 704.7,385.0 706.1,384.7 707.6,384.4 709.0,384.1 710.4,383.8 711.8,383.6 713.2,383.3 714.7,383.1 716.1,382.8 717.5,382.6 718.9,382.3 720.3,382.1 721.8,381.9 723.2,381.7 724.6,381.5 726.0,381.3 727.4,381.1 728.9,380.9 730.3,380.8 731.7,380.6 733.1,380.5 734.5,380.3 736.0,380.1 737.4,380.0 738.8,379.8 740.2,379.7 741.6,379.5 743.1,379.4 744.5,379.2 745.9,379.1 747.3,378.9 748.7,378.7 750.2,378.6 751.6,378.4 753.0,378.3 754.4,378.2 755.8,378.0 757.3,377.9 758.7,377.7 760.1,377.6 761.5,377.5 762.9,377.3 764.4,377.2 765.8,377.1 767.2,376.9 768.6,376.8 770.0,376.7 771.5,376.6 772.9,376.5 774.3,376.3 775.7,376.2 777.1,376.1 778.6,376.0 780.0,375.9 781.4,375.8 782.8,375.7 784.2,375.7 785.7,375.6 787.1,375.5 788.5,375.4 789.9,375.3 791.3,375.3 792.8,375.2 794.2,375.2 795.6,375.1 797.0,375.1 798.4,375.0 799.9,375.0 801.3,374.9 802.7,374.9 804.1,374.9 805.6,374.9 807.0,374.9 808.4,374.8 809.8,374.8 809.8,518.7 808.4,518.7 807.0,518.7 805.6,518.7 804.1,518.7 802.7,518.7 801.3,518.7 799.9,518.7 798.4,518.7 797.0,518.7 795.6,518.7 794.2,518.7 792.8,518.7 791.3,518.7 789.9,518.7 788.5,518.7 787.1,518.7 785.7,518.7 784.2,518.7 782.8,518.7 781.4,518.7 780.0,518.7 778.6,518.7 777.1,518.7 775.7,518.7 774.3,518.7 772.9,518.7 771.5,518.7 770.0,518.7 768.6,518.7 767.2,518.7 765.8,518.7 764.4,518.7 762.9,518.7 761.5,518.7 760.1,518.7 758.7,518.7 757.3,518.7 755.8,518.7 754.4,518.7 753.0,518.7 751.6,518.7 750.2,518.7 748.7,518.7 747.3,518.7 745.9,518.7 744.5,518.7 743.1,518.7 741.6,518.7 740.2,518.7 738.8,518.7 737.4,518.7 736.0,518.7 734.5,518.7 733.1,518.7 731.7,518.7 730.3,518.7 728.9,518.7 727.4,518.7 726.0,518.7 724.6,518.7 723.2,518.7 721.8,518.7 720.3,518.7 718.9,518.7 717.5,518.4 716.1,517.4 714.7,515.7 713.2,513.5 711.8,510.8 710.4,508.0 709.0,505.0 707.6,502.0 706.1,499.3 704.7,496.8 703.3,494.3 701.9,491.6 700.5,488.9 699.0,486.2 697.6,483.7 696.2,481.6 694.8,479.9 693.4,478.5 691.9,477.1 690.5,475.9 689.1,474.7 687.7,473.6 686.3,472.5 684.8,471.5 683.4,470.6 682.0,469.7 680.6,468.9 679.2,468.1 677.7,467.4 676.3,466.8 674.9,466.2 673.5,465.6 672.1,465.1 670.6,464.6 669.2,464.1 667.8,463.7 666.4,463.3 665.0,463.0 663.5,462.6 662.1,462.2 660.7,461.9 659.3,461.5 657.9,461.2 656.4,460.9 655.0,460.7 653.6,460.5 652.2,460.4 650.8,460.3 649.3,460.2 647.9,460.2 646.5,460.1 645.1,460.1 643.7,460.1 642.2,460.1 640.8,460.2 639.4,460.3 638.0,460.5 636.6,460.7 635.1,461.0 633.7,461.2 632.3,461.5 630.9,461.7 629.4,462.0 628.0,462.2 626.6,462.4 625.2,462.7 623.8,462.9 622.3,463.2 620.9,463.5 619.5,463.7 618.1,464.0 616.7,464.3 615.2,464.6 613.8,464.9 612.4,465.2 611.0,465.6 609.6,465.9 608.1,466.3 606.7,466.7 605.3,467.1 603.9,467.5 602.5,467.9 601.0,468.4 599.6,468.8 598.2,469.3 596.8,469.8 595.4,470.3 593.9,470.8 592.5,471.3 591.1,471.8 589.7,472.4 588.3,472.9 586.8,473.5 585.4,474.1 584.0,474.7 582.6,475.3 581.2,476.0 579.7,476.7 578.3,477.4 576.9,478.1 575.5,478.9 574.1,479.6 572.6,480.5 571.2,481.3 569.8,482.2 568.4,483.2 567.0,484.2 565.5,485.2 564.1,486.2 562.7,487.3 561.3,488.4 559.9,489.5 558.4,490.7 557.0,491.8 555.6,493.0 554.2,494.2 552.8,495.3 551.3,496.6 549.9,497.9 548.5,499.3 547.1,500.8 545.7,502.4 544.2,504.3 542.8,506.8 541.4,510.6 540.0,514.7 538.6,517.7 537.1,518.7 535.7,518.7 534.3,518.7 532.9,518.7 531.5,518.7 530.0,518.7 528.6,518.7 527.2,518.7 526.5,518.7 525.8,518.7 525.1,518.7 524.3,518.7 523.6,518.7 522.9,518.7 522.2,518.7 521.5,518.7 520.8,518.7 520.1,518.7 519.4,518.7 518.6,518.7 517.9,518.7 517.2,518.7 516.5,518.7 515.8,518.7 515.1,518.7 514.4,518.7 513.7,518.7 512.9,518.7 512.2,518.7 511.5,518.7 510.8,518.7 510.1,518.7 509.4,518.7 508.7,518.7 508.0,518.7 507.2,518.7 506.5,518.7 505.8,518.7 505.1,518.7 504.4,518.7 503.7,518.7 503.0,518.7 502.3,518.7 501.5,518.7 500.8,518.7 500.1,518.7 499.4,518.7" fill="#808080" fill-opacity="0.5" stroke="#808080" stroke-opacity="0.5" stroke-width="1"/>
<polyline points="499.4,517.2 500.1,515.6 500.8,514.0 501.5,512.5 502.3,510.9 503.0,509.4 503.7,507.9 504.4,506.4 505.1,504.9 505.8,503.4 506.5,502.0 507.2,500.5 508.0,499.1 508.7,497.7 509.4,496.2 510.1,494.8 510.8,493.3 511.5,491.8 512.2,490.3 512.9,488.9 513.7,487.4 514.4,486.0 515.1,484.6 515.8,483.2 516.5,481.8 517.2,480.5 517.9,479.3 518.6,478.1 519.4,476.9 520.1,475.9 520.8,474.9 521.5,474.0 522.2,473.1 522.9,472.3 523.6,471.5 524.3,470.7 525.1,470.0 525.8,469.3 526.5,468.6 527.2,467.9 528.6,466.6 530.0,465.4 531.5,464.2 532.9,463.1 534.3,462.0 535.7,460.9 537.1,459.7 538.6,458.6 540.0,457.4 541.4,456.2 542.8,455.1 544.2,453.9 545.7,452.8 547.1,451.6 548.5,450.5 549.9,449.4 551.3,448.4 552.8,447.3 554.2,446.3 555.6,445.4 557.0,444.4 558.4,443.6 559.9,442.7 561.3,441.9 562.7,441.2 564.1,440.5 565.5,439.8 567.0,439.2 568.4,438.6 569.8,437.9 571.2,437.3 572.6,436.7 574.1,436.0 575.5,435.4 576.9,434.7 578.3,434.0 579.7,433.4 581.2,432.7 582.6,432.1 584.0,431.4 585.4,430.7 586.8,430.0 588.3,429.3 589.7,428.6 591.1,427.9 592.5,427.2 593.9,426.5 595.4,425.7 596.8,424.9 598.2,424.2 599.6,423.4 601.0,422.6 602.5,421.8 603.9,421.0 605.3,420.3 606.7,419.5 608.1,418.7 609.6,418.0 611.0,417.2 612.4,416.5 613.8,415.8 615.2,415.1 616.7,414.4 618.1,413.7 619.5,413.1 620.9,412.4 622.3,411.7 623.8,411.1 625.2,410.4 626.6,409.7 628.0,409.1 629.4,408.5 630.9,407.9 632.3,407.2 633.7,406.6 635.1,406.1 636.6,405.5 638.0,404.9 639.4,404.4 640.8,403.8 642.2,403.3 643.7,402.8 645.1,402.3 646.5,401.8 647.9,401.3 649.3,400.8 650.8,400.4 652.2,399.9 653.6,399.4 655.0,399.0 656.4,398.5 657.9,398.0 659.3,397.6 660.7,397.1 662.1,396.6 663.5,396.1 665.0,395.6 666.4,395.1 667.8,394.6 669.2,394.2 670.6,393.7 672.1,393.2 673.5,392.7 674.9,392.3 676.3,391.8 677.7,391.4 679.2,391.0 680.6,390.6 682.0,390.3 683.4,389.9 684.8,389.6 686.3,389.2 687.7,388.9 689.1,388.5 690.5,388.2 691.9,387.8 693.4,387.5 694.8,387.2 696.2,386.8 697.6,386.5 699.0,386.2 700.5,385.9 701.9,385.6 703.3,385.3 704.7,385.0 706.1,384.7 707.6,384.4 709.0,384.1 710.4,383.8 711.8,383.6 713.2,383.3 714.7,383.1 716.1,382.8 717.5,382.6 718.9,382.3 720.3,382.1 721.8,381.9 723.2,381.7 724.6,381.5 726.0,381.3 727.4,381.1 728.9,380.9 730.3,380.8 731.7,380.6 733.1,380.5 734.5,380.3 736.0,380.1 737.4,380.0 738.8,379.8 740.2,379.7 741.6,379.5 743.1,379.4 744.5,379.2 745.9,379.1 747.3,378.9 748.7,378.7 750.2,378.6 751.6,378.4 753.0,378.3 754.4,378.2 755.8,378.0 757.3,377.9 758.7,377.7 760.1,377.6 761.5,377.5 762.9,377.3 764.4,377.2 765.8,377.1 767.2,376.9 768.6,376.8 770.0,376.7 771.5,376.6 772.9,376.5 774.3,376.3 775.7,376.2 777.1,376.1 778.6,376.0 780.0,375.9 781.4,375.8 782.8,375.7 784.2,375.7 785.7,375.6 787.1,375.5 788.5,375.4 789.9,375.3 791.3,375.3 792.8,375.2 794.2,375.2 795.6,375.1 797.0,375.1 798.4,375.0 799.9,375.0 801.3,374.9 802.7,374.9 804.1,374.9 805.6,374.9 807.0,374.9 808.4,374.8 809.8,374.8" fill="none" stroke="#ff0000" stroke-width="1.4" stroke-linejoin="round"/>
<polyline points="499.4,518.7 500.1,518.7 500.8,518.7 501.5,518.7 502.3,518.7 503.0,518.7 503.7,518.7 504.4,518.7 505.1,518.7 505.8,518.7 506.5,518.7 507.2,518.7 508.0,518.7 508.7,518.7 509.4,518.7 510.1,518.7 510.8,518.7 511.5,518.7 512.2,518.7 512.9,518.7 513.7,518.7 514.4,518.7 515.1,518.7 515.8,518.7 516.5,518.7 517.2,518.7 517.9,518.7 518.6,518.7 519.4,518.7 520.1,518.7 520.8,518.7 521.5,518.7 522.2,518.7 522.9,518.7 523.6,518.7 524.3,518.7 525.1,518.7 525.8,518.7 526.5,518.7 527.2,518.7 528.6,518.7 530.0,518.7 531.5,518.7 532.9,518.7 534.3,518.7 535.7,518.7 537.1,518.7 538.6,517.7 540.0,514.7 541.4,510.6 542.8,506.8 544.2,504.3 545.7,502.4 547.1,500.8 548.5,499.3 549.9,497.9 551.3,496.6 552.8,495.3 554.2,494.2 555.6,493.0 557.0,491.8 558.4,490.7 559.9,489.5 561.3,488.4 562.7,487.3 564.1,486.2 565.5,485.2 567.0,484.2 568.4,483.2 569.8,482.2 571.2,481.3 572.6,480.5 574.1,479.6 575.5,478.9 576.9,478.1 578.3,477.4 579.7,476.7 581.2,476.0 582.6,475.3 584.0,474.7 585.4,474.1 586.8,473.5 588.3,472.9 589.7,472.4 591.1,471.8 592.5,471.3 593.9,470.8 595.4,470.3 596.8,469.8 598.2,469.3 599.6,468.8 601.0,468.4 602.5,467.9 603.9,467.5 605.3,467.1 606.7,466.7 608.1,466.3 609.6,465.9 611.0,465.6 612.4,465.2 613.8,464.9 615.2,464.6 616.7,464.3 618.1,464.0 619.5,463.7 620.9,463.5 622.3,463.2 623.8,462.9 625.2,462.7 626.6,462.4 628.0,462.2 629.4,462.0 630.9,461.7 632.3,461.5 633.7,461.2 635.1,461.0 636.6,460.7 638.0,460.5 639.4,460.3 640.8,460.2 642.2,460.1 643.7,460.1 645.1,460.1 646.5,460.1 647.9,460.2 649.3,460.2 650.8,460.3 652.2,460.4 653.6,460.5 655.0,460.7 656.4,460.9 657.9,461.2 659.3,461.5 660.7,461.9 662.1,462.2 663.5,462.6 665.0,463.0 666.4,463.3 667.8,463.7 669.2,464.1 670.6,464.6 672.1,465.1 673.5,465.6 674.9,466.2 676.3,466.8 677.7,467.4 679.2,468.1 680.6,468.9 682.0,469.7 683.4,470.6 684.8,471.5 686.3,472.5 687.7,473.6 689.1,474.7 690.5,475.9 691.9,477.1 693.4,478.5 694.8,479.9 696.2,481.6 697.6,483.7 699.0,486.2 700.5,488.9 701.9,491.6 703.3,494.3 704.7,496.8 706.1,499.3 707.6,502.0 709.0,505.0 710.4,508.0 711.8,510.8 713.2,513.5 714.7,515.7 716.1,517.4 717.5,518.4 718.9,518.7 720.3,518.7 721.8,518.7 723.2,518.7 724.6,518.7 726.0,518.7 727.4,518.7 728.9,518.7 730.3,518.7 731.7,518.7 733.1,518.7 734.5,518.7 736.0,518.7 737.4,518.7 738.8,518.7 740.2,518.7 741.6,518.7 743.1,518.7 744.5,518.7 745.9,518.7 747.3,518.7 748.7,518.7 750.2,518.7 751.6,518.7 753.0,518.7 754.4,518.7 755.8,518.7 757.3,518.7 758.7,518.7 760.1,518.7 761.5,518.7 762.9,518.7 764.4,518.7 765.8,518.7 767.2,518.7 768.6,518.7 770.0,518.7 771.5,518.7 772.9,518.7 774.3,518.7 775.7,518.7 777.1,518.7 778.6,518.7 780.0,518.7 781.4,518.7 782.8,518.7 784.2,518.7 785.7,518.7 787.1,518.7 788.5,518.7 789.9,518.7 791.3,518.7 792.8,518.7 794.2,518.7 795.6,518.7 797.0,518.7 798.4,518.7 799.9,518.7 801.3,518.7 802.7,518.7 804.1,518.7 805.6,518.7 807.0,518.7 808.4,518.7 809.8,518.7" fill="none" stroke="#ff0000" stroke-width="1.4" stroke-linejoin="round"/>
<polyline points="499.4,517.2 500.1,515.6 500.8,514.1 501.5,512.6 502.3,511.2 503.0,509.7 503.7,508.3 504.4,507.0 505.1,505.6 505.8,504.3 506.5,503.0 507.2,501.8 508.0,500.6 508.7,499.5 509.4,498.4 510.1,497.4 510.8,496.4 511.5,495.4 512.2,494.5 512.9,493.6 513.7,492.7 514.4,491.9 515.1,491.0 515.8,490.2 516.5,489.4 517.2,488.5 517.9,487.7 518.6,486.8 519.4,485.9 520.1,485.0 520.8,484.0 521.5,483.0 522.2,482.0 522.9,481.0 523.6,479.9 524.3,478.8 525.1,477.6 525.8,476.5 526.5,475.3 527.2,474.2 528.6,471.8 530.0,469.4 531.5,467.0 532.9,464.7 534.3,462.4 535.7,460.1 537.1,457.9 538.6,455.6 540.0,453.3 541.4,451.1 542.8,448.9 544.2,446.7 545.7,444.6 547.1,442.5 548.5,440.5 549.9,438.5 551.3,436.5 552.8,434.5 554.2,432.6 555.6,430.7 557.0,428.9 558.4,427.0 559.9,425.2 561.3,423.5 562.7,421.7 564.1,419.9 565.5,418.2 567.0,416.6 568.4,414.9 569.8,413.4 571.2,411.8 572.6,410.4 574.1,409.1 575.5,407.8 576.9,406.6 578.3,405.4 579.7,404.1 581.2,402.8 582.6,401.5 584.0,400.1 585.4,398.7 586.8,397.3 588.3,395.9 589.7,394.6 591.1,393.2 592.5,391.9 593.9,390.6 595.4,389.4 596.8,388.3 598.2,387.2 599.6,386.2 601.0,385.1 602.5,384.0 603.9,382.9 605.3,381.6 606.7,380.3 608.1,378.9 609.6,377.6 611.0,376.4 612.4,375.2 613.8,374.1 615.2,373.0 616.7,371.9 618.1,370.9 619.5,369.9 620.9,369.0 622.3,368.0 623.8,367.1 625.2,366.1 626.6,365.2 628.0,364.3 629.4,363.4 630.9,362.5 632.3,361.6 633.7,360.8 635.1,359.9 636.6,359.1 638.0,358.3 639.4,357.4 640.8,356.6 642.2,355.8 643.7,355.0 645.1,354.2 646.5,353.5 647.9,352.7 649.3,351.9 650.8,351.2 652.2,350.5 653.6,349.7 655.0,349.0 656.4,348.3 657.9,347.5 659.3,346.8 660.7,346.0 662.1,345.3 663.5,344.5 665.0,343.8 666.4,343.0 667.8,342.3 669.2,341.6 670.6,340.9 672.1,340.2 673.5,339.6 674.9,339.0 676.3,338.4 677.7,337.8 679.2,337.2 680.6,336.6 682.0,336.1 683.4,335.5 684.8,335.0 686.3,334.5 687.7,333.9 689.1,333.4 690.5,332.9 691.9,332.4 693.4,332.0 694.8,331.5 696.2,331.0 697.6,330.6 699.0,330.1 700.5,329.7 701.9,329.3 703.3,328.8 704.7,328.4 706.1,328.0 707.6,327.6 709.0,327.2 710.4,326.8 711.8,326.5 713.2,326.1 714.7,325.7 716.1,325.4 717.5,325.0 718.9,324.7 720.3,324.4 721.8,324.1 723.2,323.7 724.6,323.4 726.0,323.1 727.4,322.8 728.9,322.5 730.3,322.3 731.7,322.0 733.1,321.7 734.5,321.4 736.0,321.1 737.4,320.9 738.8,320.6 740.2,320.4 741.6,320.1 743.1,319.9 744.5,319.6 745.9,319.4 747.3,319.1 748.7,318.9 750.2,318.6 751.6,318.4 753.0,318.2 754.4,317.9 755.8,317.7 757.3,317.4 758.7,317.2 760.1,316.9 761.5,316.6 762.9,316.4 764.4,316.1 765.8,315.9 767.2,315.6 768.6,315.4 770.0,315.2 771.5,314.9 772.9,314.7 774.3,314.5 775.7,314.3 777.1,314.1 778.6,313.9 780.0,313.7 781.4,313.5 782.8,313.3 784.2,313.1 785.7,313.0 787.1,312.8 788.5,312.7 789.9,312.6 791.3,312.5 792.8,312.4 794.2,312.3 795.6,312.3 797.0,312.2 798.4,312.1 799.9,312.1 801.3,312.0 802.7,312.0 804.1,311.9 805.6,311.9 807.0,311.8 808.4,311.8 809.8,311.8" fill="none" stroke="#008000" stroke-width="2.4" stroke-linejoin="round"/>
<polyline points="499.4,517.2 500.1,514.8 500.8,512.4 501.5,510.2 502.3,508.0 503.0,506.0 503.7,504.0 504.4,502.2 505.1,500.6 505.8,499.1 506.5,497.8 507.2,496.5 508.0,495.2 508.7,494.0 509.4,492.9 510.1,491.9 510.8,490.9 511.5,490.0 512.2,489.2 512.9,488.5 513.7,487.8 514.4,487.1 515.1,486.6 515.8,486.0 516.5,485.5 517.2,485.0 517.9,484.5 518.6,484.1 519.4,483.7 520.1,483.3 520.8,482.8 521.5,482.4 522.2,482.0 522.9,481.6 523.6,481.2 524.3,480.8 525.1,480.4 525.8,480.0 526.5,479.6 527.2,479.2 528.6,478.5 530.0,477.8 531.5,477.2 532.9,476.6 534.3,476.1 535.7,475.6 537.1,475.3 538.6,474.9 540.0,474.6 541.4,474.3 542.8,474.0 544.2,473.8 545.7,473.5 547.1,473.4 548.5,473.3 549.9,473.2 551.3,473.2 552.8,473.2 554.2,473.2 555.6,473.3 557.0,473.3 558.4,473.3 559.9,473.4 561.3,473.4 562.7,473.5 564.1,473.5 565.5,473.6 567.0,473.7 568.4,473.7 569.8,473.8 571.2,473.9 572.6,474.0 574.1,474.1 575.5,474.1 576.9,474.2 578.3,474.3 579.7,474.4 581.2,474.5 582.6,474.6 584.0,474.7 585.4,474.8 586.8,474.9 588.3,475.0 589.7,475.1 591.1,475.2 592.5,475.3 593.9,475.4 595.4,475.5 596.8,475.6 598.2,475.6 599.6,475.7 601.0,475.8 602.5,475.9 603.9,476.0 605.3,476.0 606.7,476.1 608.1,476.2 609.6,476.3 611.0,476.4 612.4,476.4 613.8,476.5 615.2,476.6 616.7,476.7 618.1,476.8 619.5,476.9 620.9,476.9 622.3,477.0 623.8,477.1 625.2,477.2 626.6,477.3 628.0,477.4 629.4,477.5 630.9,477.6 632.3,477.6 633.7,477.7 635.1,477.8 636.6,477.9 638.0,478.0 639.4,478.1 640.8,478.2 642.2,478.3 643.7,478.4 645.1,478.4 646.5,478.5 647.9,478.6 649.3,478.7 650.8,478.8 652.2,478.9 653.6,479.0 655.0,479.1 656.4,479.2 657.9,479.3 659.3,479.4 660.7,479.4 662.1,479.5 663.5,479.6 665.0,479.7 666.4,479.8 667.8,479.9 669.2,480.0 670.6,480.1 672.1,480.2 673.5,480.3 674.9,480.4 676.3,480.5 677.7,480.5 679.2,480.6 680.6,480.7 682.0,480.8 683.4,480.9 684.8,481.0 686.3,481.1 687.7,481.2 689.1,481.3 690.5,481.4 691.9,481.5 693.4,481.6 694.8,481.7 696.2,481.7 697.6,481.8 699.0,481.9 700.5,482.0 701.9,482.1 703.3,482.2 704.7,482.3 706.1,482.4 707.6,482.5 709.0,482.6 710.4,482.7 711.8,482.8 713.2,482.8 714.7,482.9 716.1,483.0 717.5,483.1 718.9,483.2 720.3,483.3 721.8,483.4 723.2,483.5 724.6,483.6 726.0,483.7 727.4,483.8 728.9,483.9 730.3,484.0 731.7,484.1 733.1,484.1 734.5,484.2 736.0,484.3 737.4,484.4 738.8,484.5 740.2,484.6 741.6,484.7 743.1,484.8 744.5,484.9 745.9,485.0 747.3,485.1 748.7,485.2 750.2,485.3 751.6,485.4 753.0,485.5 754.4,485.6 755.8,485.7 757.3,485.7 758.7,485.8 760.1,485.9 761.5,486.0 762.9,486.1 764.4,486.2 765.8,486.3 767.2,486.4 768.6,486.5 770.0,486.6 771.5,486.7 772.9,486.8 774.3,486.9 775.7,487.0 777.1,487.1 778.6,487.2 780.0,487.3 781.4,487.4 782.8,487.5 784.2,487.6 785.7,487.7 787.1,487.7 788.5,487.8 789.9,487.9 791.3,488.0 792.8,488.1 794.2,488.2 795.6,488.3 797.0,488.4 798.4,488.5 799.9,488.6 801.3,488.7 802.7,488.8 804.1,488.9 805.6,489.0 807.0,489.1 808.4,489.2 809.8,489.3" fill="none" stroke="#ffa500" stroke-width="2.2" stroke-linejoin="round"/>
<polyline points="499.4,517.2 500.1,514.8 500.8,512.5 501.5,510.2 502.3,508.1 503.0,506.1 503.7,504.1 504.4,502.3 505.1,500.7 505.8,499.1 506.5,497.7 507.2,496.4 508.0,495.1 508.7,493.9 509.4,492.7 510.1,491.6 510.8,490.6 511.5,489.6 512.2,488.7 512.9,487.8 513.7,486.9 514.4,486.1 515.1,485.3 515.8,484.6 516.5,483.8 517.2,483.1 517.9,482.4 518.6,481.8 519.4,481.2 520.1,480.6 520.8,480.0 521.5,479.5 522.2,478.9 522.9,478.4 523.6,477.9 524.3,477.4 525.1,476.9 525.8,476.4 526.5,475.9 527.2,475.4 528.6,474.5 530.0,473.7 531.5,472.9 532.9,472.2 534.3,471.6 535.7,471.2 537.1,470.8 538.6,470.5 540.0,470.1 541.4,469.8 542.8,469.5 544.2,469.3 545.7,469.0 547.1,468.8 548.5,468.6 549.9,468.5 551.3,468.4 552.8,468.3 554.2,468.3 555.6,468.3 557.0,468.3 558.4,468.3 559.9,468.4 561.3,468.4 562.7,468.5 564.1,468.5 565.5,468.6 567.0,468.7 568.4,468.7 569.8,468.8 571.2,468.9 572.6,469.0 574.1,469.1 575.5,469.2 576.9,469.3 578.3,469.5 579.7,469.6 581.2,469.7 582.6,469.8 584.0,469.9 585.4,470.1 586.8,470.2 588.3,470.3 589.7,470.4 591.1,470.6 592.5,470.7 593.9,470.8 595.4,470.9 596.8,471.0 598.2,471.1 599.6,471.2 601.0,471.3 602.5,471.5 603.9,471.6 605.3,471.7 606.7,471.8 608.1,471.9 609.6,472.0 611.0,472.1 612.4,472.2 613.8,472.4 615.2,472.5 616.7,472.6 618.1,472.7 619.5,472.8 620.9,473.0 622.3,473.1 623.8,473.2 625.2,473.3 626.6,473.4 628.0,473.6 629.4,473.7 630.9,473.8 632.3,473.9 633.7,474.0 635.1,474.1 636.6,474.3 638.0,474.4 639.4,474.5 640.8,474.6 642.2,474.7 643.7,474.8 645.1,474.9 646.5,475.0 647.9,475.1 649.3,475.2 650.8,475.3 652.2,475.4 653.6,475.5 655.0,475.6 656.4,475.7 657.9,475.8 659.3,475.9 660.7,476.0 662.1,476.1 663.5,476.2 665.0,476.3 666.4,476.4 667.8,476.4 669.2,476.5 670.6,476.6 672.1,476.7 673.5,476.8 674.9,476.9 676.3,477.0 677.7,477.1 679.2,477.2 680.6,477.3 682.0,477.4 683.4,477.5 684.8,477.6 686.3,477.7 687.7,477.8 689.1,477.9 690.5,478.0 691.9,478.1 693.4,478.2 694.8,478.3 696.2,478.4 697.6,478.5 699.0,478.6 700.5,478.7 701.9,478.9 703.3,479.0 704.7,479.1 706.1,479.2 707.6,479.3 709.0,479.4 710.4,479.6 711.8,479.7 713.2,479.8 714.7,479.9 716.1,480.0 717.5,480.2 718.9,480.3 720.3,480.4 721.8,480.5 723.2,480.7 724.6,480.8 726.0,480.9 727.4,481.0 728.9,481.2 730.3,481.3 731.7,481.4 733.1,481.5 734.5,481.7 736.0,481.8 737.4,481.9 738.8,482.0 740.2,482.2 741.6,482.3 743.1,482.4 744.5,482.5 745.9,482.6 747.3,482.8 748.7,482.9 750.2,483.0 751.6,483.1 753.0,483.2 754.4,483.4 755.8,483.5 757.3,483.6 758.7,483.7 760.1,483.8 761.5,483.9 762.9,484.0 764.4,484.1 765.8,484.2 767.2,484.4 768.6,484.5 770.0,484.6 771.5,484.7 772.9,484.8 774.3,484.9 775.7,485.0 777.1,485.1 778.6,485.2 780.0,485.3 781.4,485.4 782.8,485.6 784.2,485.7 785.7,485.8 787.1,485.9 788.5,486.0 789.9,486.1 791.3,486.2 792.8,486.3 794.2,486.4 795.6,486.5 797.0,486.6 798.4,486.7 799.9,486.8 801.3,486.9 802.7,487.0 804.1,487.1 805.6,487.2 807.0,487.3 808.4,487.4 809.8,487.5" fill="none" stroke="#ffa500" stroke-width="2.1" stroke-linejoin="round" stroke-dasharray="7.7 3.3"/>
<polyline points="499.4,517.2 500.1,515.3 500.8,514.6 501.5,514.1 502.3,513.7 503.0,513.3 503.7,513.0 504.4,512.7 505.1,512.4 505.8,512.1 506.5,511.9 507.2,511.7 508.0,511.4 508.7,511.2 509.4,511.0 510.1,510.8 510.8,510.6 511.5,510.4 512.2,510.2 512.9,510.1 513.7,509.9 514.4,509.7 515.1,509.5 515.8,509.4 516.5,509.2 517.2,509.1 517.9,508.9 518.6,508.7 519.4,508.6 520.1,508.4 520.8,508.3 521.5,508.1 522.2,508.0 522.9,507.8 523.6,507.7 524.3,507.5 525.1,507.4 525.8,507.3 526.5,507.1 527.2,507.0 528.6,506.7 530.0,506.5 531.5,506.2 532.9,505.9 534.3,505.7 535.7,505.4 537.1,505.2 538.6,504.9 540.0,504.7 541.4,504.5 542.8,504.2 544.2,504.0 545.7,503.8 547.1,503.5 548.5,503.3 549.9,503.1 551.3,502.9 552.8,502.6 554.2,502.4 555.6,502.2 557.0,502.0 558.4,501.8 559.9,501.6 561.3,501.4 562.7,501.2 564.1,501.0 565.5,500.8 567.0,500.6 568.4,500.4 569.8,500.2 571.2,500.0 572.6,499.8 574.1,499.6 575.5,499.5 576.9,499.3 578.3,499.1 579.7,498.9 581.2,498.7 582.6,498.6 584.0,498.4 585.4,498.2 586.8,498.0 588.3,497.9 589.7,497.7 591.1,497.5 592.5,497.4 593.9,497.2 595.4,497.0 596.8,496.9 598.2,496.7 599.6,496.5 601.0,496.4 602.5,496.2 603.9,496.1 605.3,495.9 606.7,495.7 608.1,495.6 609.6,495.4 611.0,495.3 612.4,495.1 613.8,495.0 615.2,494.8 616.7,494.7 618.1,494.5 619.5,494.4 620.9,494.2 622.3,494.1 623.8,493.9 625.2,493.8 626.6,493.6 628.0,493.5 629.4,493.4 630.9,493.2 632.3,493.1 633.7,492.9 635.1,492.8 636.6,492.7 638.0,492.5 639.4,492.4 640.8,492.2 642.2,492.1 643.7,492.0 645.1,491.8 646.5,491.7 647.9,491.6 649.3,491.4 650.8,491.3 652.2,491.2 653.6,491.0 655.0,490.9 656.4,490.8 657.9,490.7 659.3,490.5 660.7,490.4 662.1,490.3 663.5,490.1 665.0,490.0 666.4,489.9 667.8,489.8 669.2,489.6 670.6,489.5 672.1,489.4 673.5,489.3 674.9,489.1 676.3,489.0 677.7,488.9 679.2,488.8 680.6,488.7 682.0,488.5 683.4,488.4 684.8,488.3 686.3,488.2 687.7,488.1 689.1,487.9 690.5,487.8 691.9,487.7 693.4,487.6 694.8,487.5 696.2,487.4 697.6,487.2 699.0,487.1 700.5,487.0 701.9,486.9 703.3,486.8 704.7,486.7 706.1,486.6 707.6,486.4 709.0,486.3 710.4,486.2 711.8,486.1 713.2,486.0 714.7,485.9 716.1,485.8 717.5,485.7 718.9,485.6 720.3,485.5 721.8,485.3 723.2,485.2 724.6,485.1 726.0,485.0 727.4,484.9 728.9,484.8 730.3,484.7 731.7,484.6 733.1,484.5 734.5,484.4 736.0,484.3 737.4,484.2 738.8,484.1 740.2,484.0 741.6,483.9 743.1,483.7 744.5,483.6 745.9,483.5 747.3,483.4 748.7,483.3 750.2,483.2 751.6,483.1 753.0,483.0 754.4,482.9 755.8,482.8 757.3,482.7 758.7,482.6 760.1,482.5 761.5,482.4 762.9,482.3 764.4,482.2 765.8,482.1 767.2,482.0 768.6,481.9 770.0,481.8 771.5,481.7 772.9,481.6 774.3,481.5 775.7,481.4 777.1,481.3 778.6,481.2 780.0,481.1 781.4,481.0 782.8,481.0 784.2,480.9 785.7,480.8 787.1,480.7 788.5,480.6 789.9,480.5 791.3,480.4 792.8,480.3 794.2,480.2 795.6,480.1 797.0,480.0 798.4,479.9 799.9,479.8 801.3,479.7 802.7,479.6 804.1,479.5 805.6,479.4 807.0,479.3 808.4,479.3 809.8,479.2" fill="none" stroke="#0000ff" stroke-width="2.1" stroke-linejoin="round"/>
<polyline points="499.4,506.0 500.1,503.6 500.8,501.3 501.5,499.1 502.3,496.8 503.0,494.7 503.7,492.5 504.4,490.3 505.1,488.1 505.8,485.9 506.5,483.9 507.2,481.9 508.0,480.2 508.7,478.6 509.4,477.2 510.1,476.0 510.8,474.8 511.5,473.6 512.2,472.6 512.9,471.5 513.7,470.4 514.4,469.4 515.1,468.3 515.8,467.2 516.5,466.2 517.2,465.1 517.9,464.1 518.6,463.1 519.4,462.1 520.1,461.1 520.8,460.2 521.5,459.3 522.2,458.5 522.9,457.7 523.6,456.9 524.3,456.1 525.1,455.3 525.8,454.5 526.5,453.6 527.2,452.8 528.6,451.1 530.0,449.4 531.5,447.7 532.9,446.0 534.3,444.4 535.7,442.7 537.1,441.0 538.6,439.3 540.0,437.6 541.4,435.9 542.8,434.2 544.2,432.5 545.7,430.8 547.1,429.1 548.5,427.4 549.9,425.7 551.3,424.0 552.8,422.3 554.2,420.6 555.6,419.0 557.0,417.4 558.4,415.7 559.9,414.1 561.3,412.6 562.7,411.0 564.1,409.5 565.5,408.0 567.0,406.5 568.4,405.0 569.8,403.6 571.2,402.3 572.6,400.9 574.1,399.5 575.5,398.1 576.9,396.7 578.3,395.3 579.7,393.9 581.2,392.6 582.6,391.2 584.0,389.9 585.4,388.6 586.8,387.3 588.3,386.0 589.7,384.8 591.1,383.6 592.5,382.4 593.9,381.2 595.4,380.0 596.8,378.8 598.2,377.7 599.6,376.6 601.0,375.4 602.5,374.3 603.9,373.2 605.3,372.1 606.7,371.0 608.1,369.9 609.6,368.9 611.0,367.8 612.4,366.7 613.8,365.7 615.2,364.7 616.7,363.7 618.1,362.7 619.5,361.8 620.9,360.8 622.3,359.9 623.8,359.0 625.2,358.1 626.6,357.3 628.0,356.4 629.4,355.6 630.9,354.7 632.3,353.9 633.7,353.1 635.1,352.3 636.6,351.5 638.0,350.7 639.4,349.9 640.8,349.2 642.2,348.4 643.7,347.6 645.1,346.9 646.5,346.2 647.9,345.5 649.3,344.8 650.8,344.1 652.2,343.4 653.6,342.7 655.0,342.1 656.4,341.4 657.9,340.8 659.3,340.1 660.7,339.5 662.1,338.9 663.5,338.3 665.0,337.7 666.4,337.1 667.8,336.5 669.2,336.0 670.6,335.4 672.1,334.9 673.5,334.3 674.9,333.8 676.3,333.3 677.7,332.8 679.2,332.3 680.6,331.8 682.0,331.3 683.4,330.8 684.8,330.3 686.3,329.9 687.7,329.4 689.1,329.0 690.5,328.5 691.9,328.1 693.4,327.6 694.8,327.2 696.2,326.8 697.6,326.3 699.0,325.9 700.5,325.5 701.9,325.1 703.3,324.7 704.7,324.3 706.1,323.9 707.6,323.5 709.0,323.1 710.4,322.8 711.8,322.4 713.2,322.0 714.7,321.7 716.1,321.3 717.5,320.9 718.9,320.6 720.3,320.2 721.8,319.9 723.2,319.6 724.6,319.2 726.0,318.9 727.4,318.6 728.9,318.2 730.3,317.9 731.7,317.6 733.1,317.3 734.5,317.0 736.0,316.7 737.4,316.4 738.8,316.2 740.2,315.9 741.6,315.6 743.1,315.4 744.5,315.1 745.9,314.9 747.3,314.7 748.7,314.4 750.2,314.2 751.6,314.0 753.0,313.7 754.4,313.5 755.8,313.2 757.3,313.0 758.7,312.7 760.1,312.4 761.5,312.1 762.9,311.8 764.4,311.5 765.8,311.2 767.2,310.9 768.6,310.7 770.0,310.4 771.5,310.3 772.9,310.1 774.3,309.9 775.7,309.7 777.1,309.5 778.6,309.4 780.0,309.2 781.4,309.0 782.8,308.9 784.2,308.7 785.7,308.6 787.1,308.4 788.5,308.3 789.9,308.2 791.3,308.0 792.8,307.9 794.2,307.8 795.6,307.6 797.0,307.5 798.4,307.4 799.9,307.3 801.3,307.2 802.7,307.0 804.1,306.9 805.6,306.8 807.0,306.7 808.4,306.5 809.8,306.4" fill="none" stroke="#000" stroke-width="2.4" stroke-linejoin="round" stroke-dasharray="2.2 3.6"/>
<polyline points="499.4,519.0 500.1,519.0 500.8,519.0 501.5,519.0 502.3,519.0 503.0,519.0 503.7,519.0 504.4,519.0 505.1,519.0 505.8,519.0 506.5,519.0 507.2,519.0 508.0,519.0 508.7,519.0 509.4,519.0 510.1,519.0 510.8,519.0 511.5,519.0 512.2,519.0 512.9,519.0 513.7,519.0 514.4,519.0 515.1,519.0 515.8,519.0 516.5,519.0 517.2,519.0 517.9,519.0 518.6,519.0 519.4,519.0 520.1,519.0 520.8,519.0 521.5,519.0 522.2,519.0 522.9,519.0 523.6,519.0 524.3,519.0 525.1,519.0 525.8,519.0 526.5,519.0 527.2,519.0 528.6,519.0 530.0,519.0 531.5,514.7 532.9,509.7 534.3,506.4 535.7,503.6 537.1,501.2 538.6,498.9 540.0,496.8 541.4,494.8 542.8,492.9 544.2,491.1 545.7,489.3 547.1,487.6 548.5,485.9 549.9,484.3 551.3,482.7 552.8,481.2 554.2,479.7 555.6,478.2 557.0,476.7 558.4,475.3 559.9,473.9 561.3,472.5 562.7,471.2 564.1,469.9 565.5,468.6 567.0,467.3 568.4,466.0 569.8,464.8 571.2,463.6 572.6,462.4 574.1,461.2 575.5,460.1 576.9,459.0 578.3,457.9 579.7,456.8 581.2,455.7 582.6,454.7 584.0,453.7 585.4,452.7 586.8,451.7 588.3,450.8 589.7,449.8 591.1,448.9 592.5,448.1 593.9,447.2 595.4,446.3 596.8,445.5 598.2,444.7 599.6,444.0 601.0,443.2 602.5,442.5 603.9,441.7 605.3,441.0 606.7,440.4 608.1,439.7 609.6,439.0 611.0,438.4 612.4,437.8 613.8,437.2 615.2,436.6 616.7,436.1 618.1,435.5 619.5,435.0 620.9,434.5 622.3,434.0 623.8,433.5 625.2,433.0 626.6,432.6 628.0,432.1 629.4,431.7 630.9,431.3 632.3,430.9 633.7,430.5 635.1,430.1 636.6,429.8 638.0,429.5 639.4,429.1 640.8,428.8 642.2,428.5 643.7,428.2 645.1,428.0 646.5,427.7 647.9,427.5 649.3,427.3 650.8,427.1 652.2,426.9 653.6,426.7 655.0,426.5 656.4,426.4 657.9,426.2 659.3,426.1 660.7,426.0 662.1,425.9 663.5,425.8 665.0,425.7 666.4,425.6 667.8,425.6 669.2,425.5 670.6,425.5 672.1,425.5 673.5,425.5 674.9,425.5 676.3,425.5 677.7,425.6 679.2,425.6 680.6,425.7 682.0,425.8 683.4,425.9 684.8,426.0 686.3,426.1 687.7,426.2 689.1,426.4 690.5,426.5 691.9,426.7 693.4,426.9 694.8,427.1 696.2,427.3 697.6,427.5 699.0,427.8 700.5,428.0 701.9,428.3 703.3,428.5 704.7,428.8 706.1,429.1 707.6,429.4 709.0,429.7 710.4,430.0 711.8,430.3 713.2,430.7 714.7,431.1 716.1,431.4 717.5,431.8 718.9,432.2 720.3,432.6 721.8,433.0 723.2,433.4 724.6,433.9 726.0,434.3 727.4,434.8 728.9,435.3 730.3,435.7 731.7,436.2 733.1,436.8 734.5,437.3 736.0,437.8 737.4,438.4 738.8,438.9 740.2,439.5 741.6,440.1 743.1,440.7 744.5,441.3 745.9,441.9 747.3,442.6 748.7,443.2 750.2,443.9 751.6,444.6 753.0,445.3 754.4,446.0 755.8,446.7 757.3,447.5 758.7,448.3 760.1,449.0 761.5,449.8 762.9,450.7 764.4,451.5 765.8,452.3 767.2,453.2 768.6,454.1 770.0,455.0 771.5,456.0 772.9,456.9 774.3,457.9 775.7,458.9 777.1,460.0 778.6,461.0 780.0,462.1 781.4,463.2 782.8,464.4 784.2,465.6 785.7,466.8 787.1,468.0 788.5,469.3 789.9,470.7 791.3,472.0 792.8,473.5 794.2,475.0 795.6,476.5 797.0,478.1 798.4,479.8 799.9,481.6 801.3,483.5 802.7,485.5 804.1,487.6 805.6,489.9 807.0,492.4 808.4,495.1 809.8,498.2" fill="none" stroke="#000" stroke-width="2.1" stroke-linejoin="round"/>
<polyline points="499.4,519.0 500.1,519.0 500.8,519.0 501.5,519.0 502.3,519.0 503.0,519.0 503.7,519.0 504.4,519.0 505.1,519.0 505.8,519.0 506.5,519.0 507.2,519.0 508.0,519.0 508.7,519.0 509.4,519.0 510.1,519.0 510.8,519.0 511.5,519.0 512.2,519.0 512.9,519.0 513.7,519.0 514.4,519.0 515.1,519.0 515.8,519.0 516.5,519.0 517.2,519.0 517.9,519.0 518.6,519.0 519.4,519.0 520.1,519.0 520.8,519.0 521.5,519.0 522.2,519.0 522.9,519.0 523.6,519.0 524.3,519.0 525.1,519.0 525.8,519.0 526.5,519.0 527.2,519.0 528.6,519.0 530.0,509.5 531.5,505.1 532.9,501.7 534.3,498.8 535.7,496.2 537.1,493.8 538.6,491.7 540.0,489.6 541.4,487.7 542.8,485.8 544.2,484.1 545.7,482.4 547.1,480.7 548.5,479.2 549.9,477.6 551.3,476.1 552.8,474.7 554.2,473.3 555.6,471.9 557.0,470.5 558.4,469.2 559.9,467.9 561.3,466.7 562.7,465.5 564.1,464.3 565.5,463.1 567.0,461.9 568.4,460.8 569.8,459.7 571.2,458.6 572.6,457.6 574.1,456.5 575.5,455.5 576.9,454.5 578.3,453.5 579.7,452.6 581.2,451.6 582.6,450.7 584.0,449.8 585.4,448.9 586.8,448.0 588.3,447.2 589.7,446.4 591.1,445.6 592.5,444.8 593.9,444.0 595.4,443.2 596.8,442.5 598.2,441.8 599.6,441.1 601.0,440.4 602.5,439.7 603.9,439.1 605.3,438.4 606.7,437.8 608.1,437.2 609.6,436.6 611.0,436.0 612.4,435.5 613.8,434.9 615.2,434.4 616.7,433.8 618.1,433.3 619.5,432.8 620.9,432.4 622.3,431.9 623.8,431.4 625.2,431.0 626.6,430.6 628.0,430.1 629.4,429.7 630.9,429.3 632.3,429.0 633.7,428.6 635.1,428.2 636.6,427.9 638.0,427.6 639.4,427.2 640.8,426.9 642.2,426.6 643.7,426.4 645.1,426.1 646.5,425.8 647.9,425.6 649.3,425.3 650.8,425.1 652.2,424.9 653.6,424.7 655.0,424.5 656.4,424.3 657.9,424.2 659.3,424.0 660.7,423.9 662.1,423.8 663.5,423.6 665.0,423.5 666.4,423.4 667.8,423.4 669.2,423.3 670.6,423.2 672.1,423.2 673.5,423.2 674.9,423.1 676.3,423.1 677.7,423.1 679.2,423.2 680.6,423.2 682.0,423.2 683.4,423.3 684.8,423.4 686.3,423.4 687.7,423.5 689.1,423.6 690.5,423.8 691.9,423.9 693.4,424.0 694.8,424.2 696.2,424.4 697.6,424.5 699.0,424.7 700.5,424.9 701.9,425.2 703.3,425.4 704.7,425.6 706.1,425.9 707.6,426.2 709.0,426.4 710.4,426.7 711.8,427.0 713.2,427.4 714.7,427.7 716.1,428.0 717.5,428.4 718.9,428.7 720.3,429.1 721.8,429.5 723.2,429.9 724.6,430.3 726.0,430.8 727.4,431.2 728.9,431.6 730.3,432.1 731.7,432.6 733.1,433.1 734.5,433.6 736.0,434.1 737.4,434.6 738.8,435.2 740.2,435.7 741.6,436.3 743.1,436.9 744.5,437.5 745.9,438.1 747.3,438.7 748.7,439.3 750.2,440.0 751.6,440.7 753.0,441.3 754.4,442.0 755.8,442.7 757.3,443.5 758.7,444.2 760.1,445.0 761.5,445.7 762.9,446.5 764.4,447.4 765.8,448.2 767.2,449.0 768.6,449.9 770.0,450.8 771.5,451.7 772.9,452.6 774.3,453.6 775.7,454.5 777.1,455.5 778.6,456.5 780.0,457.6 781.4,458.6 782.8,459.7 784.2,460.8 785.7,462.0 787.1,463.2 788.5,464.4 789.9,465.7 791.3,466.9 792.8,468.3 794.2,469.6 795.6,471.1 797.0,472.5 798.4,474.1 799.9,475.6 801.3,477.3 802.7,479.0 804.1,480.9 805.6,482.8 807.0,484.8 808.4,487.0 809.8,489.3" fill="none" stroke="#ffc0cb" stroke-width="1.4" stroke-linejoin="round"/>
<line x1="498.8" y1="519.3" x2="530" y2="519.3" stroke="#a86e72" stroke-width="2"/>
<line x1="623.6" y1="533.8" x2="623.6" y2="72" stroke="#1f77b4" stroke-width="2" stroke-dasharray="2.08 3.43"/>
<line x1="493" y1="360" x2="811" y2="360" stroke="#1f77b4" stroke-width="2.1"/>
</g>
<text x="651.0" y="96" font-size="14.2" text-anchor="start" textLength="125.3" lengthAdjust="spacingAndGlyphs">V(2.2 Rd) 40 km/s</text>
<text x="651.0" y="118" font-size="14.2" text-anchor="start" textLength="107.2" lengthAdjust="spacingAndGlyphs">Vvir 107 [km/s]</text>
<text x="651.0" y="141" font-size="14.2" text-anchor="start" textLength="151.2" lengthAdjust="spacingAndGlyphs">Mvir 11.44 [log Msun]</text>
<text x="651.0" y="163.6" font-size="14.2" text-anchor="start" textLength="98.5" lengthAdjust="spacingAndGlyphs">Rvir 103 [kpc]</text>
<text x="651.0" y="186.6" font-size="14.2" text-anchor="start" textLength="153.2" lengthAdjust="spacingAndGlyphs">Mdisk 8.72 [log Msun]</text>
<rect x="521.7" y="313.3" width="281.6" height="213.7" rx="2.8" fill="#fff" fill-opacity="0.8" stroke="#ccc" stroke-opacity="0.8" stroke-width="1.4"/>
<rect x="526.5" y="320.4" width="28.1" height="9.3" fill="#808080" fill-opacity="0.5" stroke="#808080" stroke-opacity="0.5" stroke-width="1.4"/>
<line x1="526.1" y1="348" x2="553.9" y2="348" stroke="#008000" stroke-width="2.1" stroke-linecap="square"/>
<line x1="526.1" y1="371.8" x2="553.9" y2="371.8" stroke="#ffa500" stroke-width="2.1" stroke-linecap="square"/>
<line x1="526.1" y1="396.2" x2="553.9" y2="396.2" stroke="#0000ff" stroke-width="2.1" stroke-linecap="square"/>
<line x1="526.1" y1="422" x2="553.2" y2="422" stroke="#000" stroke-width="2.1" stroke-dasharray="2.08 3.43"/>
<line x1="526.1" y1="446.8" x2="553.9" y2="446.8" stroke="#000" stroke-width="2.1" stroke-linecap="square"/>
<line x1="526.1" y1="471.5" x2="553.9" y2="471.5" stroke="#ffc0cb" stroke-width="1.3" stroke-linecap="square"/>
<line x1="526.1" y1="493" x2="553.2" y2="493" stroke="#1f77b4" stroke-width="2.1" stroke-dasharray="2.08 3.43"/>
<line x1="526.1" y1="513.8" x2="553.9" y2="513.8" stroke="#1f77b4" stroke-width="2.1" stroke-linecap="square"/>
<text x="565.0" y="329.2" font-size="14.2" text-anchor="start" textLength="53.0" lengthAdjust="spacingAndGlyphs">CL 95%</text>
<text x="566.4" y="352.0" font-size="14.2" text-anchor="start" textLength="39.0" lengthAdjust="spacingAndGlyphs"><tspan font-style="italic">v</tspan><tspan font-style="italic" font-size="10.2" dy="2.2">DM</tspan><tspan dy="-2.2">(</tspan><tspan font-style="italic">r</tspan>)</text>
<text x="610.4" y="352.0" font-size="14.2" text-anchor="start" textLength="38.0" lengthAdjust="spacingAndGlyphs">DC14</text>
<text x="566.4" y="376.2" font-size="14.2" text-anchor="start" textLength="30.0" lengthAdjust="spacingAndGlyphs"><tspan font-style="italic">v</tspan><tspan font-style="italic" font-size="10.2" dy="2.2">d</tspan><tspan dy="-2.2">(</tspan><tspan font-style="italic">r</tspan>)</text>
<text x="600.6" y="376.2" font-size="14.2" text-anchor="start" textLength="32.2" lengthAdjust="spacingAndGlyphs">MGE</text>
<text x="566.4" y="399.6" font-size="14.2" text-anchor="start" textLength="30.0" lengthAdjust="spacingAndGlyphs"><tspan font-style="italic">v</tspan><tspan font-style="italic" font-size="10.2" dy="2.2">g</tspan><tspan dy="-2.2">(</tspan><tspan font-style="italic">r</tspan>)</text>
<text x="600.6" y="399.6" font-size="14.2" text-anchor="start" textLength="32.3" lengthAdjust="spacingAndGlyphs">sgas</text>
<text x="566.4" y="426.3" font-size="14.2" text-anchor="start" textLength="29.6" lengthAdjust="spacingAndGlyphs"><tspan font-style="italic">v</tspan><tspan font-style="italic" font-size="10.2" dy="2.2">c</tspan><tspan dy="-2.2">(</tspan><tspan font-style="italic">r</tspan>)</text>
<text x="601.0" y="426.3" font-size="14.2" text-anchor="start" textLength="196.3" lengthAdjust="spacingAndGlyphs">without ADC (DalcantonFull)</text>
<text x="566.4" y="451.9" font-size="14.2" text-anchor="start" textLength="24.0" lengthAdjust="spacingAndGlyphs"><tspan font-style="italic">v</tspan>(<tspan font-style="italic">r</tspan>)</text>
<text x="595.1" y="451.9" font-size="14.2" text-anchor="start" textLength="135.6" lengthAdjust="spacingAndGlyphs">DC14MGEsgasnone</text>
<text x="566.4" y="476.3" font-size="14.2" text-anchor="start" textLength="24.0" lengthAdjust="spacingAndGlyphs"><tspan font-style="italic">v</tspan>(<tspan font-style="italic">r</tspan>)</text>
<text x="594.5" y="476.3" font-size="14.2" text-anchor="start" textLength="35.4" lengthAdjust="spacingAndGlyphs">50\%</text>
<text x="565.0" y="497.7" font-size="14.2" text-anchor="start" textLength="49.2" lengthAdjust="spacingAndGlyphs">2 Rhalf</text>
<text x="565.0" y="517.7" font-size="14.2" text-anchor="start" textLength="25.6" lengthAdjust="spacingAndGlyphs">Vvir</text>
</svg>
</body></html>
